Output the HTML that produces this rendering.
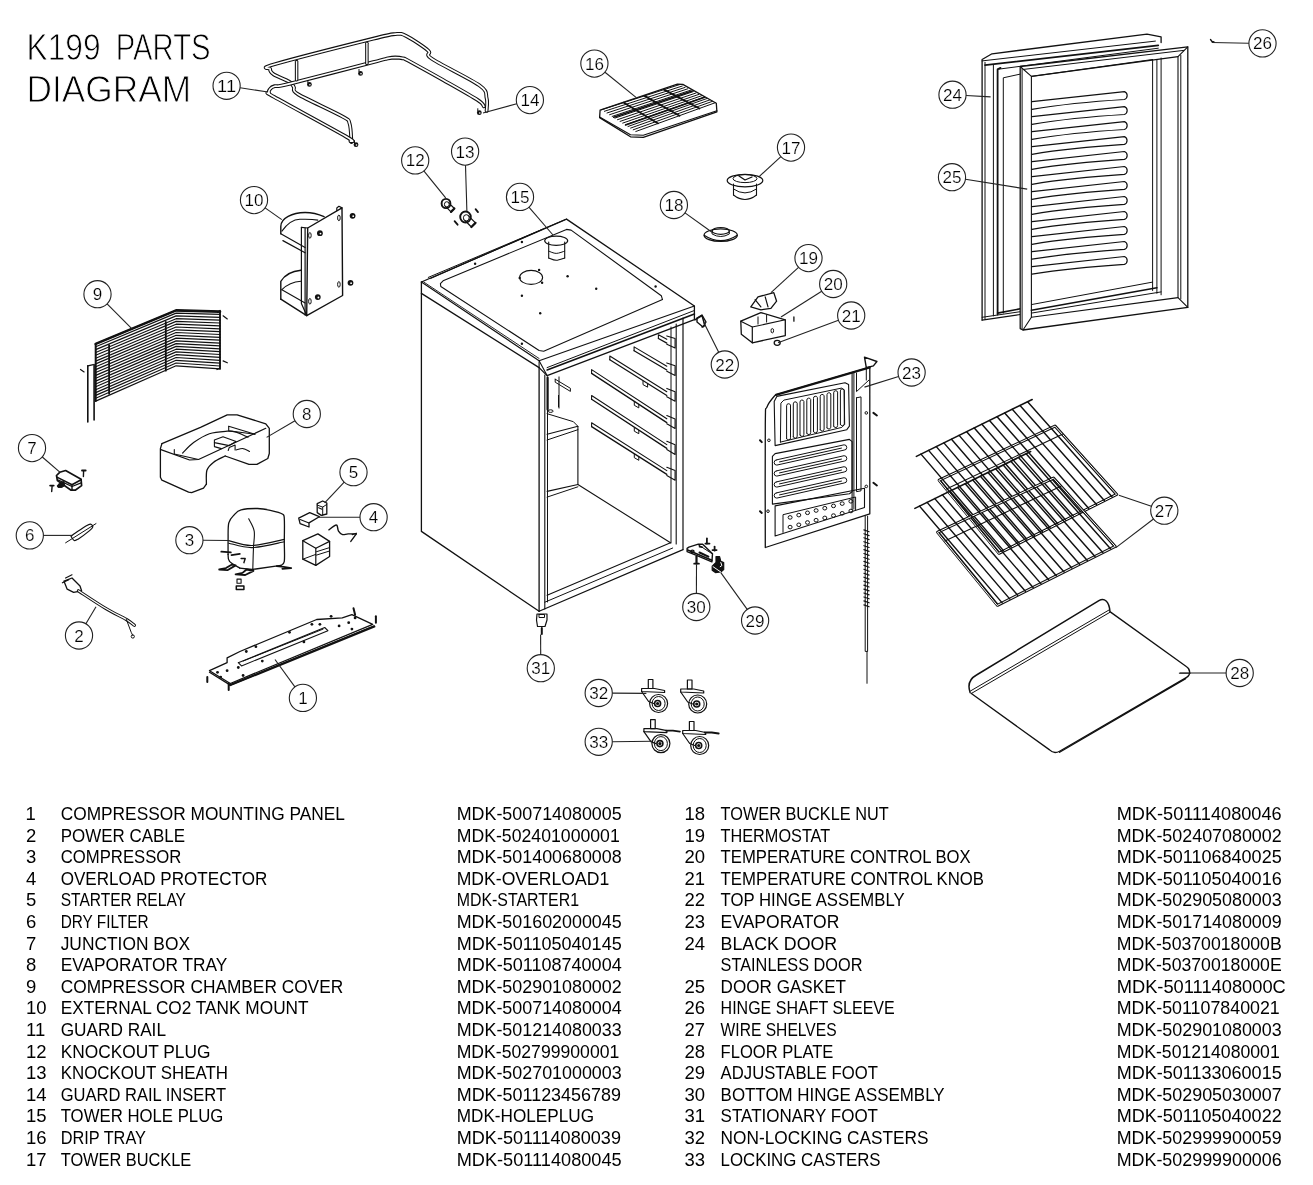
<!DOCTYPE html>
<html><head><meta charset="utf-8"><title>K199 Parts Diagram</title>
<style>
html,body{margin:0;padding:0;background:#fff;width:1313px;height:1185px;overflow:hidden}
svg{position:absolute;left:0;top:0;display:block;will-change:transform}
text{font-family:"Liberation Sans", sans-serif;fill:#000;stroke:#fff;stroke-width:0px}
.co{fill:none;stroke:#222;stroke-width:1.1}
.ld{stroke:#222;stroke-width:1.1}
.p{fill:none;stroke:#111;stroke-width:1.1;stroke-linejoin:round;stroke-linecap:round}
.pw{fill:#fff;stroke:#111;stroke-width:1.1;stroke-linejoin:round;stroke-linecap:round}
</style></head>
<body>
<svg width="1313" height="1185" viewBox="0 0 1313 1185">
<g id="parts">
<path d="M486.6,110.9 C486.6,108.8 487.9,102.4 486.6,98.1 C485.4,93.8 488.5,91.9 479.3,85.3 C470.2,78.8 440.3,64.6 431.8,58.8 C423.3,53.0 432.4,54.4 428.2,50.6 C423.9,46.8 411.7,38.7 406.2,36.0 C400.7,33.2 400.7,33.7 395.3,34.1 C389.8,34.6 393.4,33.7 373.3,38.7 C353.2,43.7 291.8,59.3 274.6,64.3 C257.4,69.3 270.2,67.2 270.1,68.9 C269.9,70.5 270.5,72.2 273.7,74.4 C276.9,76.5 285.9,79.5 289.2,81.7 C292.6,83.8 292.3,85.0 293.8,87.1 C295.3,89.3 290.3,89.6 298.4,94.5 C306.5,99.3 333.7,111.5 342.3,116.4 C350.8,121.3 348.0,119.4 349.6,123.7 C351.1,128.0 351.1,138.9 351.4,142.0" fill="none" stroke="#111" stroke-width="3.8" stroke-linejoin="round" stroke-linecap="round"/>
<path d="M486.6,110.9 C486.6,108.8 487.9,102.4 486.6,98.1 C485.4,93.8 488.5,91.9 479.3,85.3 C470.2,78.8 440.3,64.6 431.8,58.8 C423.3,53.0 432.4,54.4 428.2,50.6 C423.9,46.8 411.7,38.7 406.2,36.0 C400.7,33.2 400.7,33.7 395.3,34.1 C389.8,34.6 393.4,33.7 373.3,38.7 C353.2,43.7 291.8,59.3 274.6,64.3 C257.4,69.3 270.2,67.2 270.1,68.9 C269.9,70.5 270.5,72.2 273.7,74.4 C276.9,76.5 285.9,79.5 289.2,81.7 C292.6,83.8 292.3,85.0 293.8,87.1 C295.3,89.3 290.3,89.6 298.4,94.5 C306.5,99.3 333.7,111.5 342.3,116.4 C350.8,121.3 348.0,119.4 349.6,123.7 C351.1,128.0 351.1,138.9 351.4,142.0" fill="none" stroke="#fff" stroke-width="1.7" stroke-linejoin="round" stroke-linecap="round"/>
<path d="M483.9,106.3 C482.8,105.3 484.4,104.4 477.5,99.9 C470.7,95.5 454.4,86.4 442.8,79.8 C431.2,73.3 414.8,64.2 408.1,60.6 C401.4,57.0 404.7,58.8 402.6,58.3 C400.4,57.7 397.7,57.5 395.3,57.5 C392.8,57.6 391.6,57.7 387.9,58.4 C384.3,59.2 389.8,57.9 373.3,62.1 C356.9,66.3 305.7,79.8 289.2,83.9 C272.8,87.9 277.8,85.4 274.6,86.2 C271.4,87.1 271.0,87.8 270.1,89.0 C269.1,90.1 268.4,91.6 269.1,93.0 C269.9,94.4 261.8,89.9 274.6,97.2 C287.4,104.4 333.3,129.2 345.9,136.5 C358.5,143.8 349.7,140.3 350.5,141.1" fill="none" stroke="#111" stroke-width="3.8" stroke-linejoin="round" stroke-linecap="round"/>
<path d="M483.9,106.3 C482.8,105.3 484.4,104.4 477.5,99.9 C470.7,95.5 454.4,86.4 442.8,79.8 C431.2,73.3 414.8,64.2 408.1,60.6 C401.4,57.0 404.7,58.8 402.6,58.3 C400.4,57.7 397.7,57.5 395.3,57.5 C392.8,57.6 391.6,57.7 387.9,58.4 C384.3,59.2 389.8,57.9 373.3,62.1 C356.9,66.3 305.7,79.8 289.2,83.9 C272.8,87.9 277.8,85.4 274.6,86.2 C271.4,87.1 271.0,87.8 270.1,89.0 C269.1,90.1 268.4,91.6 269.1,93.0 C269.9,94.4 261.8,89.9 274.6,97.2 C287.4,104.4 333.3,129.2 345.9,136.5 C358.5,143.8 349.7,140.3 350.5,141.1" fill="none" stroke="#fff" stroke-width="1.7" stroke-linejoin="round" stroke-linecap="round"/>
<path d="M296.6,61.6 L296.6,79.8" fill="none" stroke="#111" stroke-width="3.5" stroke-linejoin="round" stroke-linecap="round"/>
<path d="M296.6,61.6 L296.6,79.8" fill="none" stroke="#fff" stroke-width="1.4" stroke-linejoin="round" stroke-linecap="round"/>
<path d="M366.9,43.3 L366.9,63.4" fill="none" stroke="#111" stroke-width="3.5" stroke-linejoin="round" stroke-linecap="round"/>
<path d="M366.9,43.3 L366.9,63.4" fill="none" stroke="#fff" stroke-width="1.4" stroke-linejoin="round" stroke-linecap="round"/>
<circle cx="309.4" cy="84.4" r="2.4" fill="#111"/>
<circle cx="309.9" cy="84.7" r="0.8" fill="#fff"/>
<line x1="307.9" y1="80.4" x2="307.9" y2="82.9" stroke="#111" stroke-width="1.0" stroke-linecap="round"/>
<circle cx="360.5" cy="73.4" r="2.4" fill="#111"/>
<circle cx="361.0" cy="73.7" r="0.8" fill="#fff"/>
<line x1="359.0" y1="69.4" x2="359.0" y2="71.9" stroke="#111" stroke-width="1.0" stroke-linecap="round"/>
<circle cx="356.0" cy="144.7" r="2.4" fill="#111"/>
<circle cx="356.5" cy="145.0" r="0.8" fill="#fff"/>
<line x1="354.5" y1="140.7" x2="354.5" y2="143.2" stroke="#111" stroke-width="1.0" stroke-linecap="round"/>
<circle cx="479.3" cy="112.7" r="2.4" fill="#111"/>
<circle cx="479.8" cy="113.0" r="0.8" fill="#fff"/>
<line x1="477.8" y1="108.7" x2="477.8" y2="111.2" stroke="#111" stroke-width="1.0" stroke-linecap="round"/>
<polygon points="600.1,110.2 677.4,84.1 682.8,84.4 716.3,103.3 716.9,111.8 643.3,137.4 630.5,136.8 599.6,117.6" fill="none" stroke="#111" stroke-width="1.3" stroke-linejoin="round" stroke-linecap="round"/>
<polyline points="599.6,117.1 630.5,134.7 643.3,135.2 716.9,110.7" fill="none" stroke="#111" stroke-width="1.1" stroke-linejoin="round" stroke-linecap="round"/>
<line x1="601.7" y1="109.7" x2="679.6" y2="84.6" stroke="#111" stroke-width="1.0" stroke-linecap="round"/>
<line x1="604.4" y1="111.3" x2="682.3" y2="86.0" stroke="#111" stroke-width="1.0" stroke-linecap="round"/>
<line x1="607.0" y1="113.0" x2="685.1" y2="87.4" stroke="#111" stroke-width="1.0" stroke-linecap="round"/>
<line x1="609.6" y1="114.7" x2="687.8" y2="88.8" stroke="#111" stroke-width="1.0" stroke-linecap="round"/>
<line x1="612.2" y1="116.4" x2="690.6" y2="90.2" stroke="#111" stroke-width="1.0" stroke-linecap="round"/>
<line x1="614.9" y1="118.1" x2="693.3" y2="91.6" stroke="#111" stroke-width="1.0" stroke-linecap="round"/>
<line x1="617.5" y1="119.7" x2="696.0" y2="93.0" stroke="#111" stroke-width="1.0" stroke-linecap="round"/>
<line x1="620.1" y1="121.4" x2="698.8" y2="94.4" stroke="#111" stroke-width="1.0" stroke-linecap="round"/>
<line x1="622.7" y1="123.1" x2="701.5" y2="95.8" stroke="#111" stroke-width="1.0" stroke-linecap="round"/>
<line x1="625.3" y1="124.8" x2="704.3" y2="97.1" stroke="#111" stroke-width="1.0" stroke-linecap="round"/>
<line x1="628.0" y1="126.5" x2="707.0" y2="98.5" stroke="#111" stroke-width="1.0" stroke-linecap="round"/>
<line x1="630.6" y1="128.1" x2="709.8" y2="99.9" stroke="#111" stroke-width="1.0" stroke-linecap="round"/>
<line x1="633.2" y1="129.8" x2="712.5" y2="101.3" stroke="#111" stroke-width="1.0" stroke-linecap="round"/>
<line x1="635.8" y1="131.5" x2="715.3" y2="102.7" stroke="#111" stroke-width="1.0" stroke-linecap="round"/>
<line x1="623.5" y1="102.6" x2="658.1" y2="123.4" stroke="#111" stroke-width="1.8" stroke-linecap="round"/>
<line x1="644.5" y1="95.9" x2="679.5" y2="115.7" stroke="#111" stroke-width="1.8" stroke-linecap="round"/>
<line x1="664.0" y1="89.6" x2="699.4" y2="108.5" stroke="#111" stroke-width="1.8" stroke-linecap="round"/>
<line x1="613.7" y1="117.3" x2="692.1" y2="90.9" stroke="#111" stroke-width="1.6" stroke-linecap="round"/>
<line x1="625.6" y1="125.0" x2="704.6" y2="97.3" stroke="#111" stroke-width="1.6" stroke-linecap="round"/>
<polygon points="448.2,202.3 454.4,208.5 451.0,211.9 444.8,205.7" fill="#fff" stroke="#111" stroke-width="1.2" stroke-linejoin="round" stroke-linecap="round"/>
<line x1="454.4" y1="208.5" x2="451.0" y2="211.9" stroke="#111" stroke-width="2.2" stroke-linecap="round"/>
<ellipse cx="446.0" cy="203.5" rx="4.4" ry="4.6" fill="none" stroke="#111" stroke-width="1.9"/>
<ellipse cx="446.8" cy="204.3" rx="2.4" ry="2.6" fill="#fff" stroke="#111" stroke-width="1.0"/>
<polygon points="468.0,215.5 475.5,222.9 471.4,227.0 464.0,219.5" fill="#fff" stroke="#111" stroke-width="1.2" stroke-linejoin="round" stroke-linecap="round"/>
<line x1="475.5" y1="222.9" x2="471.4" y2="227.0" stroke="#111" stroke-width="2.2" stroke-linecap="round"/>
<ellipse cx="465.5" cy="217.0" rx="5.3" ry="5.5" fill="none" stroke="#111" stroke-width="1.9"/>
<ellipse cx="466.3" cy="217.8" rx="2.9" ry="3.1" fill="#fff" stroke="#111" stroke-width="1.0"/>
<line x1="454.6" y1="221.1" x2="457.6" y2="224.7" stroke="#111" stroke-width="1.8" stroke-linecap="round"/>
<line x1="475.6" y1="209.1" x2="478.0" y2="212.1" stroke="#111" stroke-width="1.8" stroke-linecap="round"/>
<ellipse cx="745.0" cy="180.6" rx="17.8" ry="6.3" fill="#fff" stroke="#111" stroke-width="1.2"/>
<ellipse cx="745.0" cy="178.6" rx="12.0" ry="4.0" fill="none" stroke="#111" stroke-width="1.0"/>
<polyline points="733.5,184.0 733.5,195.0" fill="none" stroke="#111" stroke-width="1.1" stroke-linejoin="round" stroke-linecap="round"/>
<polyline points="756.5,184.0 756.5,195.0" fill="none" stroke="#111" stroke-width="1.1" stroke-linejoin="round" stroke-linecap="round"/>
<path d="M733.5,195 Q745,204 756.5,195" fill="none" stroke="#111" stroke-width="1.1" stroke-linejoin="round" stroke-linecap="round"/>
<path d="M733.5,189 Q745,197 756.5,189" fill="none" stroke="#111" stroke-width="1.0" stroke-linejoin="round" stroke-linecap="round"/>
<polyline points="739.0,176.0 745.0,180.0 752.0,177.0" fill="none" stroke="#111" stroke-width="1.3" stroke-linejoin="round" stroke-linecap="round"/>
<ellipse cx="720.7" cy="235.2" rx="16.6" ry="6.3" fill="none" stroke="#111" stroke-width="1.2"/>
<path d="M704.1,235.2 Q720.7,246 737.3,235.2" fill="none" stroke="#111" stroke-width="1.1" stroke-linejoin="round" stroke-linecap="round"/>
<ellipse cx="720.7" cy="230.9" rx="8.6" ry="3.4" fill="none" stroke="#111" stroke-width="1.2"/>
<path d="M712.1,231 L712.1,234 Q720.7,239 729.3,234 L729.3,231" fill="none" stroke="#111" stroke-width="1.0" stroke-linejoin="round" stroke-linecap="round"/>
<polyline points="750.8,306.9 758.0,296.9 773.8,292.6 776.6,301.2 770.9,308.3 760.9,309.8 750.8,306.9" fill="none" stroke="#111" stroke-width="1.3" stroke-linejoin="round" stroke-linecap="round"/>
<polyline points="755.1,299.7 760.9,306.9" fill="none" stroke="#111" stroke-width="1.2" stroke-linejoin="round" stroke-linecap="round"/>
<polyline points="765.2,296.9 768.0,306.9" fill="none" stroke="#111" stroke-width="1.2" stroke-linejoin="round" stroke-linecap="round"/>
<polygon points="740.8,321.2 760.9,312.6 785.3,319.8 785.3,335.6 752.3,342.8 741.3,334.2" fill="none" stroke="#111" stroke-width="1.3" stroke-linejoin="round" stroke-linecap="round"/>
<polyline points="740.8,321.2 752.3,327.0 752.3,342.8" fill="none" stroke="#111" stroke-width="1.2" stroke-linejoin="round" stroke-linecap="round"/>
<polyline points="752.3,327.0 785.3,319.8" fill="none" stroke="#111" stroke-width="1.1" stroke-linejoin="round" stroke-linecap="round"/>
<ellipse cx="772.3" cy="330.7" rx="1.3" ry="2.2" fill="none" stroke="#111" stroke-width="1"/>
<polyline points="758.0,316.9 758.0,324.1" fill="none" stroke="#111" stroke-width="1" stroke-linejoin="round" stroke-linecap="round"/>
<polyline points="766.6,314.9 766.6,322.1" fill="none" stroke="#111" stroke-width="1" stroke-linejoin="round" stroke-linecap="round"/>
<polyline points="793.9,316.9 793.9,321.2" fill="none" stroke="#111" stroke-width="1.3" stroke-linejoin="round" stroke-linecap="round"/>
<ellipse cx="777.2" cy="342.8" rx="3.0" ry="2.5" fill="none" stroke="#111" stroke-width="1.3"/>
<polyline points="694.9,319.8 702.0,315.5 704.9,325.6 702.0,327.0" fill="none" stroke="#111" stroke-width="1.5" stroke-linejoin="round" stroke-linecap="round"/>
<polygon points="307.7,228.0 342.0,207.9 342.6,295.5 306.7,315.6" fill="#fff" stroke="#111" stroke-width="1.4" stroke-linejoin="round" stroke-linecap="round"/>
<polyline points="301.4,227.4 307.7,228.0" fill="none" stroke="#111" stroke-width="1.2" stroke-linejoin="round" stroke-linecap="round"/>
<polyline points="301.4,227.4 301.4,303.4 306.7,315.6" fill="none" stroke="#111" stroke-width="1.2" stroke-linejoin="round" stroke-linecap="round"/>
<polyline points="305.1,228.0 305.1,315.0" fill="none" stroke="#111" stroke-width="1.2" stroke-linejoin="round" stroke-linecap="round"/>
<polyline points="342.0,207.9 338.9,206.3 336.8,207.9 336.8,210.6" fill="none" stroke="#111" stroke-width="1.2" stroke-linejoin="round" stroke-linecap="round"/>
<path d="M 280.8,233.8 L 280.8,226.4 C 280.8,217.9 292.4,212.7 305.1,212.5 C 313.5,212.5 319.9,214.8 324.1,216.7" fill="none" stroke="#111" stroke-width="1.4" stroke-linejoin="round" stroke-linecap="round"/>
<path d="M 281.9,231.1 C 286.1,225.3 292.4,219.5 299.8,219.3 C 309.3,219.0 314.6,219.5 317.8,220.1" fill="none" stroke="#111" stroke-width="1.1" stroke-linejoin="round" stroke-linecap="round"/>
<polyline points="280.8,233.8 305.1,247.5" fill="none" stroke="#111" stroke-width="1.2" stroke-linejoin="round" stroke-linecap="round"/>
<polyline points="282.9,240.6 305.1,252.8" fill="none" stroke="#111" stroke-width="1.2" stroke-linejoin="round" stroke-linecap="round"/>
<path d="M 280.8,299.2 L 280.8,281.3 C 284.0,276.0 290.3,271.2 300.9,270.2" fill="none" stroke="#111" stroke-width="1.4" stroke-linejoin="round" stroke-linecap="round"/>
<path d="M 281.9,289.7 C 286.1,285.5 292.4,281.8 300.9,281.3" fill="none" stroke="#111" stroke-width="1.1" stroke-linejoin="round" stroke-linecap="round"/>
<polyline points="280.8,299.2 306.7,315.6" fill="none" stroke="#111" stroke-width="1.4" stroke-linejoin="round" stroke-linecap="round"/>
<polyline points="281.9,289.7 305.1,302.9" fill="none" stroke="#111" stroke-width="1.1" stroke-linejoin="round" stroke-linecap="round"/>
<circle cx="319.9" cy="233.2" r="2.9" fill="#111"/>
<circle cx="320.5" cy="233.6" r="0.9" fill="#fff"/>
<circle cx="352.6" cy="215.8" r="2.9" fill="#111"/>
<circle cx="353.2" cy="216.2" r="0.9" fill="#fff"/>
<circle cx="350.5" cy="282.8" r="2.9" fill="#111"/>
<circle cx="351.1" cy="283.2" r="0.9" fill="#fff"/>
<circle cx="317.8" cy="297.1" r="2.9" fill="#111"/>
<circle cx="318.4" cy="297.5" r="0.9" fill="#fff"/>
<ellipse cx="309.9" cy="235.4" rx="1.3" ry="2.8" fill="none" stroke="#111" stroke-width="1.0"/>
<ellipse cx="338.9" cy="217.9" rx="1.3" ry="2.8" fill="none" stroke="#111" stroke-width="1.0"/>
<ellipse cx="338.9" cy="284.4" rx="1.3" ry="2.8" fill="none" stroke="#111" stroke-width="1.0"/>
<ellipse cx="309.9" cy="301.3" rx="1.3" ry="2.8" fill="none" stroke="#111" stroke-width="1.0"/>
<polyline points="95.7,343.9 176.1,310.4 220.0,311.6" fill="none" stroke="#111" stroke-width="1.2" stroke-linejoin="round" stroke-linecap="round"/>
<polyline points="95.7,346.7 176.1,313.1 220.0,314.4" fill="none" stroke="#111" stroke-width="1.2" stroke-linejoin="round" stroke-linecap="round"/>
<polyline points="95.7,349.6 176.1,315.9 220.0,317.3" fill="none" stroke="#111" stroke-width="1.2" stroke-linejoin="round" stroke-linecap="round"/>
<polyline points="95.7,352.5 176.1,318.7 220.0,320.2" fill="none" stroke="#111" stroke-width="1.2" stroke-linejoin="round" stroke-linecap="round"/>
<polyline points="95.7,355.3 176.1,321.4 220.0,323.0" fill="none" stroke="#111" stroke-width="1.2" stroke-linejoin="round" stroke-linecap="round"/>
<polyline points="95.7,358.2 176.1,324.2 220.0,325.9" fill="none" stroke="#111" stroke-width="1.2" stroke-linejoin="round" stroke-linecap="round"/>
<polyline points="95.7,361.1 176.1,327.0 220.0,328.8" fill="none" stroke="#111" stroke-width="1.2" stroke-linejoin="round" stroke-linecap="round"/>
<polyline points="95.7,363.9 176.1,329.8 220.0,331.6" fill="none" stroke="#111" stroke-width="1.2" stroke-linejoin="round" stroke-linecap="round"/>
<polyline points="95.7,366.8 176.1,332.5 220.0,334.5" fill="none" stroke="#111" stroke-width="1.2" stroke-linejoin="round" stroke-linecap="round"/>
<polyline points="95.7,369.6 176.1,335.3 220.0,337.4" fill="none" stroke="#111" stroke-width="1.2" stroke-linejoin="round" stroke-linecap="round"/>
<polyline points="95.7,372.5 176.1,338.1 220.0,340.2" fill="none" stroke="#111" stroke-width="1.2" stroke-linejoin="round" stroke-linecap="round"/>
<polyline points="95.7,375.4 176.1,340.9 220.0,343.1" fill="none" stroke="#111" stroke-width="1.2" stroke-linejoin="round" stroke-linecap="round"/>
<polyline points="95.7,378.2 176.1,343.6 220.0,345.9" fill="none" stroke="#111" stroke-width="1.2" stroke-linejoin="round" stroke-linecap="round"/>
<polyline points="95.7,381.1 176.1,346.4 220.0,348.8" fill="none" stroke="#111" stroke-width="1.2" stroke-linejoin="round" stroke-linecap="round"/>
<polyline points="95.7,384.0 176.1,349.2 220.0,351.7" fill="none" stroke="#111" stroke-width="1.2" stroke-linejoin="round" stroke-linecap="round"/>
<polyline points="95.7,386.8 176.1,351.9 220.0,354.5" fill="none" stroke="#111" stroke-width="1.2" stroke-linejoin="round" stroke-linecap="round"/>
<polyline points="95.7,389.7 176.1,354.7 220.0,357.4" fill="none" stroke="#111" stroke-width="1.2" stroke-linejoin="round" stroke-linecap="round"/>
<polyline points="95.7,392.6 176.1,357.5 220.0,360.3" fill="none" stroke="#111" stroke-width="1.2" stroke-linejoin="round" stroke-linecap="round"/>
<polyline points="95.7,395.4 176.1,360.3 220.0,363.1" fill="none" stroke="#111" stroke-width="1.2" stroke-linejoin="round" stroke-linecap="round"/>
<polyline points="95.7,398.3 176.1,363.0 220.0,366.0" fill="none" stroke="#111" stroke-width="1.2" stroke-linejoin="round" stroke-linecap="round"/>
<polyline points="95.7,401.1 176.1,365.8 220.0,368.9" fill="none" stroke="#111" stroke-width="1.2" stroke-linejoin="round" stroke-linecap="round"/>
<polyline points="95.7,343.9 176.1,310.4 220.0,311.6" fill="none" stroke="#111" stroke-width="2.6" stroke-linejoin="round" stroke-linecap="round"/>
<polyline points="95.7,343.9 95.7,401.1" fill="none" stroke="#111" stroke-width="2.0" stroke-linejoin="round" stroke-linecap="round"/>
<polyline points="220.0,311.6 220.0,368.9" fill="none" stroke="#111" stroke-width="1.6" stroke-linejoin="round" stroke-linecap="round"/>
<polyline points="109.1,345.1 109.1,393.8" fill="none" stroke="#111" stroke-width="1.8" stroke-linejoin="round" stroke-linecap="round"/>
<polyline points="165.8,321.9 165.8,370.7" fill="none" stroke="#111" stroke-width="1.8" stroke-linejoin="round" stroke-linecap="round"/>
<polyline points="87.8,365.8 87.8,421.9" fill="none" stroke="#111" stroke-width="1.6" stroke-linejoin="round" stroke-linecap="round"/>
<polyline points="94.1,364.6 94.1,420.0" fill="none" stroke="#111" stroke-width="1.6" stroke-linejoin="round" stroke-linecap="round"/>
<polyline points="87.8,365.8 93.3,364.6" fill="none" stroke="#111" stroke-width="1.2" stroke-linejoin="round" stroke-linecap="round"/>
<polyline points="217.6,312.2 220.0,310.4 220.0,368.2 217.0,369.5" fill="none" stroke="#111" stroke-width="1.3" stroke-linejoin="round" stroke-linecap="round"/>
<polyline points="223.1,315.8 227.3,318.9" fill="none" stroke="#111" stroke-width="1.2" stroke-linejoin="round" stroke-linecap="round"/>
<polyline points="223.1,360.9 227.3,362.8" fill="none" stroke="#111" stroke-width="1.2" stroke-linejoin="round" stroke-linecap="round"/>
<polyline points="80.5,369.5 84.1,371.9" fill="none" stroke="#111" stroke-width="1.2" stroke-linejoin="round" stroke-linecap="round"/>
<polyline points="161.9,443.6 200.5,427.3 227.2,414.9 237.1,414.9 265.8,423.8 269.3,428.3 269.3,453.5 267.8,458.5 256.9,464.4 249.0,464.4 225.2,456.0" fill="none" stroke="#111" stroke-width="1.3" stroke-linejoin="round" stroke-linecap="round"/>
<path d="M225.2,456.0 C223.3,457.1 216.4,460.0 213.4,462.4 C210.3,464.8 208.1,466.7 206.9,470.3 C205.8,474.0 206.5,481.9 206.4,484.2" fill="none" stroke="#111" stroke-width="1.3" stroke-linejoin="round" stroke-linecap="round"/>
<polyline points="206.4,484.2 203.5,488.2 191.6,492.6 188.6,492.1 161.9,480.2 160.4,477.3 160.4,448.6 161.9,443.6" fill="none" stroke="#111" stroke-width="1.3" stroke-linejoin="round" stroke-linecap="round"/>
<polyline points="160.9,449.6 189.6,460.0 198.5,459.5 265.8,428.3" fill="none" stroke="#111" stroke-width="1.2" stroke-linejoin="round" stroke-linecap="round"/>
<path d="M182.7,453.0 C184.5,451.3 189.1,445.8 193.6,442.6 C198.0,439.4 203.8,435.6 209.4,433.7 C215.0,431.8 222.8,431.5 227.2,431.2 C231.7,431.0 232.7,431.2 236.1,432.2 C239.6,433.2 246.0,436.4 248.0,437.2" fill="none" stroke="#111" stroke-width="1.2" stroke-linejoin="round" stroke-linecap="round"/>
<polyline points="174.3,449.6 174.3,454.0 198.5,459.5" fill="none" stroke="#111" stroke-width="1.1" stroke-linejoin="round" stroke-linecap="round"/>
<polyline points="228.7,426.3 228.7,430.7 255.0,434.2" fill="none" stroke="#111" stroke-width="1.1" stroke-linejoin="round" stroke-linecap="round"/>
<polyline points="228.7,426.3 255.0,434.2" fill="none" stroke="#111" stroke-width="1.1" stroke-linejoin="round" stroke-linecap="round"/>
<polyline points="214.4,440.1 223.0,436.7 236.1,441.6 229.2,445.6 214.4,442.6 214.4,440.1" fill="none" stroke="#111" stroke-width="1.1" stroke-linejoin="round" stroke-linecap="round"/>
<polyline points="214.4,442.6 214.4,446.6 221.3,448.6" fill="none" stroke="#111" stroke-width="1.1" stroke-linejoin="round" stroke-linecap="round"/>
<polyline points="228.2,450.5 229.2,447.6 235.1,445.1 235.1,450.0" fill="none" stroke="#111" stroke-width="1.1" stroke-linejoin="round" stroke-linecap="round"/>
<path d="M236.1,450.0 C237.3,449.8 240.8,448.3 243.1,448.6 C245.3,448.8 248.4,451.0 249.5,451.5" fill="none" stroke="#111" stroke-width="1.1" stroke-linejoin="round" stroke-linecap="round"/>
<polygon points="56.5,475.5 59.7,472.3 65.6,470.5 81.1,479.2 81.6,485.6 75.2,490.2 71.1,490.2 57.4,480.6 56.5,475.5" fill="#fff" stroke="#111" stroke-width="1.7" stroke-linejoin="round" stroke-linecap="round"/>
<polyline points="57.4,477.4 72.0,484.7 81.1,479.7" fill="none" stroke="#111" stroke-width="1.6" stroke-linejoin="round" stroke-linecap="round"/>
<polyline points="58.3,480.1 72.0,486.5 81.1,482.9" fill="none" stroke="#111" stroke-width="1.2" stroke-linejoin="round" stroke-linecap="round"/>
<polyline points="72.0,484.7 72.0,489.7" fill="none" stroke="#111" stroke-width="1.4" stroke-linejoin="round" stroke-linecap="round"/>
<polygon points="57.4,485.6 59.7,482.9 63.8,481.5 64.7,485.6 61.9,487.4 58.3,487.4" fill="#111" stroke="#111" stroke-width="1.0" stroke-linejoin="round" stroke-linecap="round"/>
<polyline points="82.0,470.5 85.7,470.5" fill="none" stroke="#111" stroke-width="1.8" stroke-linejoin="round" stroke-linecap="round"/>
<polyline points="83.6,471.0 83.4,476.5" fill="none" stroke="#111" stroke-width="1.4" stroke-linejoin="round" stroke-linecap="round"/>
<polyline points="50.1,485.6 53.7,485.6" fill="none" stroke="#111" stroke-width="1.8" stroke-linejoin="round" stroke-linecap="round"/>
<polyline points="52.1,486.1 51.7,491.5" fill="none" stroke="#111" stroke-width="1.4" stroke-linejoin="round" stroke-linecap="round"/>
<polyline points="65.6,542.8 96.0,523.6" fill="none" stroke="#111" stroke-width="1.0" stroke-linejoin="round" stroke-linecap="round"/>
<path d="M71.0,536.4 C71.6,537.1 73.0,540.1 74.2,540.5 C75.4,541.0 75.8,540.6 78.4,538.9 C80.9,537.3 87.2,532.6 89.6,530.6 C92.0,528.6 92.6,527.8 92.8,526.8 C92.9,525.7 91.6,524.4 90.5,524.2 C89.5,524.1 89.1,524.2 86.4,525.8 C83.7,527.4 76.8,532.1 74.2,533.8 C71.7,535.6 71.6,535.9 71.0,536.4" fill="none" stroke="#111" stroke-width="1.2" stroke-linejoin="round" stroke-linecap="round"/>
<polygon points="64.0,581.2 72.0,578.0 80.0,586.0 81.6,590.8 73.6,592.4 67.2,589.2" fill="none" stroke="#111" stroke-width="1.3" stroke-linejoin="round" stroke-linecap="round"/>
<polyline points="62.4,582.8 68.8,579.6" fill="none" stroke="#111" stroke-width="1.2" stroke-linejoin="round" stroke-linecap="round"/>
<polyline points="65.6,578.0 72.0,574.8" fill="none" stroke="#111" stroke-width="1.2" stroke-linejoin="round" stroke-linecap="round"/>
<path d="M78.4,590.8 C82.9,593.7 97.6,603.6 105.6,608.3 C113.6,613.1 121.6,616.7 126.4,619.5 C131.2,622.4 133.0,624.3 134.4,625.3" fill="none" stroke="#111" stroke-width="3.2" stroke-linejoin="round" stroke-linecap="round"/>
<path d="M78.4,590.8 C82.9,593.7 97.6,603.6 105.6,608.3 C113.6,613.1 121.6,616.7 126.4,619.5 C131.2,622.4 133.0,624.3 134.4,625.3" fill="none" stroke="#fff" stroke-width="1.2" stroke-linejoin="round" stroke-linecap="round"/>
<polyline points="126.4,619.5 131.2,632.3 132.8,635.5" fill="none" stroke="#111" stroke-width="1.0" stroke-linejoin="round" stroke-linecap="round"/>
<ellipse cx="132.8" cy="636.5" rx="1.6" ry="1.6" fill="none" stroke="#111" stroke-width="1.0"/>
<path d="M228.1,554.4 C228.1,551.9 228.0,544.6 228.1,539.4 C228.2,534.1 227.8,527.0 228.8,522.9 C229.8,518.8 232.2,516.8 234.3,514.7 C236.3,512.5 237.2,510.9 241.1,509.9 C245.0,508.9 252.6,508.4 257.6,508.5 C262.6,508.6 267.2,509.7 271.3,510.6 C275.4,511.5 280.1,512.6 282.3,514.0 C284.4,515.4 284.0,514.1 284.3,518.8 C284.7,523.5 284.3,535.0 284.3,542.1 C284.3,549.2 284.9,557.4 284.3,561.3 C283.7,565.2 281.5,564.7 280.9,565.4" fill="none" stroke="#111" stroke-width="1.3" stroke-linejoin="round" stroke-linecap="round"/>
<polyline points="280.9,565.4 252.1,569.5 239.8,568.1" fill="none" stroke="#111" stroke-width="1.3" stroke-linejoin="round" stroke-linecap="round"/>
<path d="M239.8,568.1 C238.0,567.0 231.4,563.6 229.5,561.3 C227.5,559.0 228.3,555.6 228.1,554.4" fill="none" stroke="#111" stroke-width="1.3" stroke-linejoin="round" stroke-linecap="round"/>
<path d="M228.8,540.7 C232.7,541.5 242.8,545.8 252.1,545.5 C261.4,545.3 278.9,540.4 284.3,539.4" fill="none" stroke="#111" stroke-width="1.2" stroke-linejoin="round" stroke-linecap="round"/>
<path d="M228.8,543.2 C232.7,543.9 242.8,547.8 252.1,547.6 C261.4,547.4 278.9,542.8 284.3,541.8" fill="none" stroke="#111" stroke-width="1.1" stroke-linejoin="round" stroke-linecap="round"/>
<path d="M248.7,518.8 C249.6,520.8 253.4,526.3 254.2,531.1 C255.0,535.9 253.7,541.2 253.5,547.6 C253.2,554.0 252.9,565.9 252.8,569.5" fill="none" stroke="#111" stroke-width="1.1" stroke-linejoin="round" stroke-linecap="round"/>
<polyline points="221.3,551.7 230.8,552.4" fill="none" stroke="#111" stroke-width="1.8" stroke-linejoin="round" stroke-linecap="round"/>
<polyline points="231.5,555.1 239.8,553.8" fill="none" stroke="#111" stroke-width="1.8" stroke-linejoin="round" stroke-linecap="round"/>
<polyline points="241.1,558.5 245.2,558.5 243.9,562.7" fill="none" stroke="#111" stroke-width="1.4" stroke-linejoin="round" stroke-linecap="round"/>
<polyline points="219.2,569.5 226.0,568.1 231.5,564.7 235.6,565.4 227.4,570.2 219.2,569.5" fill="none" stroke="#111" stroke-width="1.8" stroke-linejoin="round" stroke-linecap="round"/>
<polyline points="235.6,574.3 242.5,572.9 246.6,569.5 253.5,570.9 245.2,575.0 235.6,574.3" fill="none" stroke="#111" stroke-width="1.8" stroke-linejoin="round" stroke-linecap="round"/>
<polyline points="276.8,566.1 283.6,566.8 291.2,568.1 282.3,568.8" fill="none" stroke="#111" stroke-width="1.8" stroke-linejoin="round" stroke-linecap="round"/>
<polygon points="237.0,579.1 241.1,579.1 241.1,583.2 237.0,583.2" fill="none" stroke="#111" stroke-width="1.1" stroke-linejoin="round" stroke-linecap="round"/>
<polygon points="236.3,586.0 243.9,586.0 243.9,589.4 236.3,589.4" fill="none" stroke="#111" stroke-width="1.5" stroke-linejoin="round" stroke-linecap="round"/>
<polygon points="302.8,540.7 317.9,533.9 329.6,541.4 329.6,556.5 315.8,565.4 302.8,559.2" fill="none" stroke="#111" stroke-width="1.3" stroke-linejoin="round" stroke-linecap="round"/>
<polyline points="302.8,540.7 315.8,548.3 329.6,541.4" fill="none" stroke="#111" stroke-width="1.2" stroke-linejoin="round" stroke-linecap="round"/>
<polyline points="315.8,548.3 315.8,565.4" fill="none" stroke="#111" stroke-width="1.2" stroke-linejoin="round" stroke-linecap="round"/>
<polyline points="302.8,559.2 315.8,554.4" fill="none" stroke="#111" stroke-width="1.0" stroke-linejoin="round" stroke-linecap="round"/>
<polyline points="316.5,551.7 329.6,547.6" fill="none" stroke="#111" stroke-width="1.0" stroke-linejoin="round" stroke-linecap="round"/>
<polyline points="316.5,555.1 329.6,551.0" fill="none" stroke="#111" stroke-width="1.0" stroke-linejoin="round" stroke-linecap="round"/>
<polyline points="298.7,518.1 309.7,512.6 319.3,516.7 309.0,522.9 309.0,527.0 300.1,523.6 298.7,518.1" fill="none" stroke="#111" stroke-width="1.3" stroke-linejoin="round" stroke-linecap="round"/>
<polyline points="300.1,519.5 309.0,522.9" fill="none" stroke="#111" stroke-width="1.1" stroke-linejoin="round" stroke-linecap="round"/>
<polygon points="317.2,503.7 322.7,501.0 326.8,503.0 326.8,514.0 321.3,515.4 317.2,512.6" fill="none" stroke="#111" stroke-width="1.3" stroke-linejoin="round" stroke-linecap="round"/>
<polyline points="317.2,505.1 322.7,507.1 326.8,504.4" fill="none" stroke="#111" stroke-width="1.0" stroke-linejoin="round" stroke-linecap="round"/>
<polyline points="318.6,507.8 322.0,509.2" fill="none" stroke="#111" stroke-width="1.1" stroke-linejoin="round" stroke-linecap="round"/>
<polyline points="322.7,507.1 322.7,515.4" fill="none" stroke="#111" stroke-width="1.0" stroke-linejoin="round" stroke-linecap="round"/>
<path d="M328.9,529.8 C330.1,529.0 334.8,524.7 336.4,525.0 C338.0,525.2 337.4,529.5 338.5,531.1 C339.5,532.7 341.0,534.1 342.6,534.6 C344.2,535.0 345.8,534.0 348.1,533.9 C350.4,533.8 354.9,533.9 356.3,533.9" fill="none" stroke="#111" stroke-width="1.4" stroke-linejoin="round" stroke-linecap="round"/>
<polyline points="356.3,533.9 350.8,541.4" fill="none" stroke="#111" stroke-width="1.4" stroke-linejoin="round" stroke-linecap="round"/>
<polyline points="352.2,534.6 356.3,533.2" fill="none" stroke="#111" stroke-width="1.2" stroke-linejoin="round" stroke-linecap="round"/>
<polyline points="209.5,670.7 227.1,662.7 227.1,657.9 239.9,651.5 316.7,619.5 342.3,617.9 351.9,614.7 372.7,624.3 230.3,683.5 209.5,670.7" fill="none" stroke="#111" stroke-width="1.3" stroke-linejoin="round" stroke-linecap="round"/>
<polyline points="209.5,672.3 230.3,685.1 374.3,625.9" fill="none" stroke="#111" stroke-width="1.3" stroke-linejoin="round" stroke-linecap="round"/>
<polyline points="230.3,685.1 374.3,626.6" fill="none" stroke="#111" stroke-width="2.2" stroke-linejoin="round" stroke-linecap="round"/>
<polyline points="238.3,662.7 324.7,627.5 327.9,630.7 241.5,665.9 238.3,662.7" fill="none" stroke="#111" stroke-width="1.1" stroke-linejoin="round" stroke-linecap="round"/>
<polyline points="243.1,661.1 323.1,629.1" fill="none" stroke="#111" stroke-width="1.0" stroke-linejoin="round" stroke-linecap="round"/>
<circle cx="246.3" cy="651.5" r="1.4" fill="#111"/>
<circle cx="289.5" cy="632.3" r="1.4" fill="#111"/>
<circle cx="311.9" cy="624.3" r="1.4" fill="#111"/>
<circle cx="348.7" cy="622.7" r="1.4" fill="#111"/>
<circle cx="243.1" cy="675.5" r="1.4" fill="#111"/>
<circle cx="262.3" cy="661.1" r="1.4" fill="#111"/>
<circle cx="303.9" cy="641.9" r="1.4" fill="#111"/>
<circle cx="351.9" cy="629.1" r="1.4" fill="#111"/>
<circle cx="217.5" cy="672.3" r="1.4" fill="#111"/>
<circle cx="227.1" cy="670.7" r="1.4" fill="#111"/>
<circle cx="339.1" cy="625.9" r="1.4" fill="#111"/>
<circle cx="238.3" cy="667.5" r="1.4" fill="#111"/>
<circle cx="319.9" cy="624.3" r="1.4" fill="#111"/>
<circle cx="331.1" cy="616.3" r="1.4" fill="#111"/>
<circle cx="355.1" cy="617.9" r="1.4" fill="#111"/>
<circle cx="220.7" cy="677.1" r="1.4" fill="#111"/>
<circle cx="255.9" cy="646.7" r="1.4" fill="#111"/>
<polyline points="353.5,608.3 355.1,614.7" fill="none" stroke="#111" stroke-width="2" stroke-linejoin="round" stroke-linecap="round"/>
<polyline points="375.9,616.3 375.9,622.7" fill="none" stroke="#111" stroke-width="2" stroke-linejoin="round" stroke-linecap="round"/>
<polyline points="207.3,677.1 207.3,681.9" fill="none" stroke="#111" stroke-width="2" stroke-linejoin="round" stroke-linecap="round"/>
<polyline points="228.7,683.5 228.7,689.9" fill="none" stroke="#111" stroke-width="2" stroke-linejoin="round" stroke-linecap="round"/>
<polyline points="421.4,282.0 566.5,219.1 694.4,306.0 694.4,319.7 547.1,375.6 539.1,367.6 421.4,293.4" fill="none" stroke="#111" stroke-width="1.3" stroke-linejoin="round" stroke-linecap="round"/>
<polyline points="421.4,282.0 539.1,360.8 694.4,306.0" fill="none" stroke="#111" stroke-width="1.2" stroke-linejoin="round" stroke-linecap="round"/>
<polyline points="423.7,282.0 539.1,358.5" fill="none" stroke="#111" stroke-width="0.9" stroke-linejoin="round" stroke-linecap="round"/>
<polyline points="539.1,360.8 547.1,375.6" fill="none" stroke="#111" stroke-width="1.1" stroke-linejoin="round" stroke-linecap="round"/>
<polyline points="539.1,361.9 539.1,367.6" fill="none" stroke="#111" stroke-width="1.1" stroke-linejoin="round" stroke-linecap="round"/>
<polyline points="428.3,277.4 566.5,219.1" fill="none" stroke="#111" stroke-width="1.0" stroke-linejoin="round" stroke-linecap="round"/>
<polyline points="430.6,278.5 542.5,229.4" fill="none" stroke="#111" stroke-width="1.0" stroke-linejoin="round" stroke-linecap="round"/>
<polyline points="547.1,367.6 694.4,310.5" fill="none" stroke="#111" stroke-width="1.0" stroke-linejoin="round" stroke-linecap="round"/>
<polyline points="547.1,369.9 694.4,314.0" fill="none" stroke="#111" stroke-width="1.6" stroke-linejoin="round" stroke-linecap="round"/>
<polyline points="443.1,280.8 566.5,229.4 571.1,230.1 661.3,295.7 662.5,299.6 543.7,351.2 539.1,350.5 440.8,286.5 440.4,283.6 443.1,280.8" fill="none" stroke="#111" stroke-width="1.1" stroke-linejoin="round" stroke-linecap="round"/>
<ellipse cx="531.1" cy="277.4" rx="11.5" ry="7.0" fill="none" stroke="#111" stroke-width="1.1"/>
<circle cx="521.9" cy="242.0" r="1.2" fill="#111"/>
<circle cx="475.1" cy="263.7" r="1.2" fill="#111"/>
<circle cx="567.6" cy="276.3" r="1.2" fill="#111"/>
<circle cx="596.2" cy="288.8" r="1.2" fill="#111"/>
<circle cx="521.9" cy="295.7" r="1.2" fill="#111"/>
<circle cx="540.2" cy="313.3" r="1.2" fill="#111"/>
<circle cx="539.1" cy="269.9" r="1.2" fill="#111"/>
<circle cx="519.7" cy="277.9" r="1.2" fill="#111"/>
<circle cx="542.1" cy="282.7" r="1.2" fill="#111"/>
<circle cx="655.6" cy="286.5" r="1.2" fill="#111"/>
<circle cx="521.9" cy="343.7" r="1.2" fill="#111"/>
<ellipse cx="556.2" cy="240.8" rx="11.5" ry="4.6" fill="#fff" stroke="#111" stroke-width="1.2"/>
<polyline points="548.7,242.0 548.7,258.0" fill="none" stroke="#111" stroke-width="1.1" stroke-linejoin="round" stroke-linecap="round"/>
<polyline points="564.7,242.0 564.7,258.0" fill="none" stroke="#111" stroke-width="1.1" stroke-linejoin="round" stroke-linecap="round"/>
<path d="M548.7,258.0 C549.9,258.4 553.6,260.3 556.2,260.3 C558.9,260.3 563.3,258.4 564.7,258.0" fill="none" stroke="#111" stroke-width="1.1" stroke-linejoin="round" stroke-linecap="round"/>
<path d="M548.7,251.1 C549.9,251.5 553.6,253.4 556.2,253.4 C558.9,253.4 563.3,251.5 564.7,251.1" fill="none" stroke="#111" stroke-width="1.0" stroke-linejoin="round" stroke-linecap="round"/>
<polyline points="421.4,282.0 421.4,531.4 539.1,611.3" fill="none" stroke="#111" stroke-width="1.3" stroke-linejoin="round" stroke-linecap="round"/>
<polyline points="539.1,367.6 539.1,611.3" fill="none" stroke="#111" stroke-width="1.3" stroke-linejoin="round" stroke-linecap="round"/>
<polyline points="544.8,375.0 544.8,609.0" fill="none" stroke="#111" stroke-width="1.1" stroke-linejoin="round" stroke-linecap="round"/>
<polyline points="547.5,377.0 547.5,602.0" fill="none" stroke="#111" stroke-width="1.0" stroke-linejoin="round" stroke-linecap="round"/>
<polyline points="539.1,611.3 683.0,549.6" fill="none" stroke="#111" stroke-width="1.2" stroke-linejoin="round" stroke-linecap="round"/>
<polyline points="544.8,602.2 672.7,548.0" fill="none" stroke="#111" stroke-width="1.0" stroke-linejoin="round" stroke-linecap="round"/>
<polyline points="547.1,595.3 670.5,542.8" fill="none" stroke="#111" stroke-width="1.1" stroke-linejoin="round" stroke-linecap="round"/>
<polyline points="683.0,318.0 683.0,549.6" fill="none" stroke="#111" stroke-width="1.2" stroke-linejoin="round" stroke-linecap="round"/>
<polyline points="676.2,324.0 676.2,544.0" fill="none" stroke="#111" stroke-width="1.1" stroke-linejoin="round" stroke-linecap="round"/>
<polyline points="671.0,327.0 671.0,543.0" fill="none" stroke="#111" stroke-width="1.0" stroke-linejoin="round" stroke-linecap="round"/>
<polyline points="577.9,484.5 670.5,542.8" fill="none" stroke="#111" stroke-width="1.1" stroke-linejoin="round" stroke-linecap="round"/>
<polyline points="547.1,434.3 577.9,426.3 577.9,484.5 547.1,491.4" fill="none" stroke="#111" stroke-width="1.1" stroke-linejoin="round" stroke-linecap="round"/>
<polyline points="547.1,440.0 577.9,429.7" fill="none" stroke="#111" stroke-width="1.0" stroke-linejoin="round" stroke-linecap="round"/>
<polyline points="547.1,497.1 577.9,486.8" fill="none" stroke="#111" stroke-width="1.0" stroke-linejoin="round" stroke-linecap="round"/>
<polyline points="547.1,413.7 573.4,421.7 577.9,426.3" fill="none" stroke="#111" stroke-width="1.0" stroke-linejoin="round" stroke-linecap="round"/>
<polyline points="558.5,395.4 558.5,406.9" fill="none" stroke="#111" stroke-width="1.0" stroke-linejoin="round" stroke-linecap="round"/>
<polyline points="591.6,373.4 591.6,369.6 666.8,418.8" fill="none" stroke="#111" stroke-width="1.1" stroke-linejoin="round" stroke-linecap="round"/>
<polyline points="591.6,373.4 666.8,422.6" fill="none" stroke="#111" stroke-width="1.3" stroke-linejoin="round" stroke-linecap="round"/>
<polyline points="634.3,401.9 634.3,405.3 638.8,407.9 638.8,404.6" fill="none" stroke="#111" stroke-width="1.0" stroke-linejoin="round" stroke-linecap="round"/>
<polyline points="666.8,415.5 675.1,419.0 675.1,428.5 666.8,423.8" fill="none" stroke="#111" stroke-width="1.1" stroke-linejoin="round" stroke-linecap="round"/>
<polyline points="591.6,399.2 591.6,395.5 666.8,444.6" fill="none" stroke="#111" stroke-width="1.1" stroke-linejoin="round" stroke-linecap="round"/>
<polyline points="591.6,399.2 666.8,448.4" fill="none" stroke="#111" stroke-width="1.3" stroke-linejoin="round" stroke-linecap="round"/>
<polyline points="634.3,427.7 634.3,431.2 638.8,433.7 638.8,430.4" fill="none" stroke="#111" stroke-width="1.0" stroke-linejoin="round" stroke-linecap="round"/>
<polyline points="666.8,441.3 675.1,444.8 675.1,454.4 666.8,449.6" fill="none" stroke="#111" stroke-width="1.1" stroke-linejoin="round" stroke-linecap="round"/>
<polyline points="591.6,426.6 591.6,422.8 666.8,470.6" fill="none" stroke="#111" stroke-width="1.1" stroke-linejoin="round" stroke-linecap="round"/>
<polyline points="591.6,426.6 666.8,474.4" fill="none" stroke="#111" stroke-width="1.3" stroke-linejoin="round" stroke-linecap="round"/>
<polyline points="634.3,454.2 634.3,457.7 638.8,460.3 638.8,456.9" fill="none" stroke="#111" stroke-width="1.0" stroke-linejoin="round" stroke-linecap="round"/>
<polyline points="666.8,467.3 675.1,470.6 675.1,480.2 666.8,475.6" fill="none" stroke="#111" stroke-width="1.1" stroke-linejoin="round" stroke-linecap="round"/>
<polyline points="609.8,359.8 609.8,356.0 666.8,391.7" fill="none" stroke="#111" stroke-width="1.1" stroke-linejoin="round" stroke-linecap="round"/>
<polyline points="609.8,359.8 666.8,395.5" fill="none" stroke="#111" stroke-width="1.3" stroke-linejoin="round" stroke-linecap="round"/>
<polyline points="643.0,381.1 643.0,384.6 647.6,387.2 647.6,383.8" fill="none" stroke="#111" stroke-width="1.0" stroke-linejoin="round" stroke-linecap="round"/>
<polyline points="666.8,388.4 675.1,391.7 675.1,401.2 666.8,396.7" fill="none" stroke="#111" stroke-width="1.1" stroke-linejoin="round" stroke-linecap="round"/>
<polyline points="634.1,350.7 634.1,346.9 666.8,366.2" fill="none" stroke="#111" stroke-width="1.1" stroke-linejoin="round" stroke-linecap="round"/>
<polyline points="634.1,350.7 666.8,370.0" fill="none" stroke="#111" stroke-width="1.3" stroke-linejoin="round" stroke-linecap="round"/>
<polyline points="666.8,362.9 675.1,365.8 675.1,375.4 666.8,371.2" fill="none" stroke="#111" stroke-width="1.1" stroke-linejoin="round" stroke-linecap="round"/>
<polyline points="658.4,338.5 658.4,334.7 666.8,339.3" fill="none" stroke="#111" stroke-width="1.1" stroke-linejoin="round" stroke-linecap="round"/>
<polyline points="658.4,338.5 666.8,343.1" fill="none" stroke="#111" stroke-width="1.3" stroke-linejoin="round" stroke-linecap="round"/>
<polyline points="666.8,335.9 675.1,338.5 675.1,348.1 666.8,344.3" fill="none" stroke="#111" stroke-width="1.1" stroke-linejoin="round" stroke-linecap="round"/>
<polyline points="555.2,379.2 570.4,388.3 570.4,391.4 555.2,382.2 555.2,379.2" fill="none" stroke="#111" stroke-width="1.0" stroke-linejoin="round" stroke-linecap="round"/>
<polyline points="559.0,376.9 559.0,408.1" fill="none" stroke="#111" stroke-width="1.0" stroke-linejoin="round" stroke-linecap="round"/>
<polyline points="547.6,377.7 547.6,409.6" fill="none" stroke="#111" stroke-width="2.2" stroke-linejoin="round" stroke-linecap="round"/>
<ellipse cx="550.6" cy="411.1" rx="2.5" ry="1.3" fill="none" stroke="#111" stroke-width="1.0"/>
<polyline points="537.0,614.0 547.0,614.0 547.0,620.0 545.0,626.5 537.5,626.5 536.5,620.0 537.0,614.0" fill="none" stroke="#111" stroke-width="1.2" stroke-linejoin="round" stroke-linecap="round"/>
<polyline points="539.0,614.5 544.5,614.5 544.5,617.5 539.0,617.5 539.0,614.5" fill="none" stroke="#111" stroke-width="1.0" stroke-linejoin="round" stroke-linecap="round"/>
<polyline points="541.8,628.0 541.8,634.0" fill="none" stroke="#111" stroke-width="2.0" stroke-linejoin="round" stroke-linecap="round"/>
<polyline points="697.0,318.0 702.0,315.0 706.0,322.0 703.0,327.0 697.0,322.0 697.0,318.0" fill="none" stroke="#111" stroke-width="1.4" stroke-linejoin="round" stroke-linecap="round"/>
<polyline points="687.1,548.4 688.9,547.2 698.3,544.2 702.7,544.2 712.5,553.7 711.9,561.9 696.5,555.4 687.1,551.6 687.1,548.4" fill="#fff" stroke="#111" stroke-width="1.4" stroke-linejoin="round" stroke-linecap="round"/>
<polyline points="687.7,550.1 696.5,553.7 711.9,560.2" fill="none" stroke="#111" stroke-width="1.6" stroke-linejoin="round" stroke-linecap="round"/>
<polyline points="698.3,544.8 712.5,554.0" fill="none" stroke="#111" stroke-width="1.0" stroke-linejoin="round" stroke-linecap="round"/>
<polyline points="699.5,546.6 702.4,547.2" fill="none" stroke="#111" stroke-width="1.6" stroke-linejoin="round" stroke-linecap="round"/>
<polyline points="699.5,552.5 708.4,556.6" fill="none" stroke="#111" stroke-width="2.0" stroke-linejoin="round" stroke-linecap="round"/>
<ellipse cx="692.4" cy="551.3" rx="1.6" ry="1.2" fill="none" stroke="#111" stroke-width="1.4"/>
<polyline points="706.9,538.3 706.9,543.6" fill="none" stroke="#111" stroke-width="1.8" stroke-linejoin="round" stroke-linecap="round"/>
<polyline points="705.4,543.6 709.5,543.6" fill="none" stroke="#111" stroke-width="1.8" stroke-linejoin="round" stroke-linecap="round"/>
<polyline points="714.6,546.6 714.6,550.7" fill="none" stroke="#111" stroke-width="1.8" stroke-linejoin="round" stroke-linecap="round"/>
<polyline points="712.5,550.1 716.6,550.1" fill="none" stroke="#111" stroke-width="1.8" stroke-linejoin="round" stroke-linecap="round"/>
<polyline points="696.5,556.6 696.5,563.7" fill="none" stroke="#111" stroke-width="2.2" stroke-linejoin="round" stroke-linecap="round"/>
<polyline points="694.2,563.7 698.9,563.7" fill="none" stroke="#111" stroke-width="1.8" stroke-linejoin="round" stroke-linecap="round"/>
<polygon points="716.0,556.6 719.6,556.6 720.8,561.3 723.7,562.5 723.7,569.6 720.8,572.0 715.4,572.6 712.2,570.2 712.2,566.1 716.0,562.5 716.0,556.6" fill="#111" stroke="#111" stroke-width="1.2" stroke-linejoin="round" stroke-linecap="round"/>
<polyline points="713.1,566.7 720.8,572.0" fill="none" stroke="#fff" stroke-width="1.0" stroke-linejoin="round" stroke-linecap="round"/>
<polyline points="720.8,562.5 721.9,565.5 720.2,566.7" fill="none" stroke="#fff" stroke-width="1.0" stroke-linejoin="round" stroke-linecap="round"/>
<path d="M765.3,547.5 C765.3,527.0 765.0,447.9 765.3,424.4 C765.6,400.9 765.3,411.7 767.1,406.7 C768.9,401.7 774.5,396.3 775.9,394.3 L869.8,366.8 L869.8,513.8 L765.3,547.5" fill="none" stroke="#111" stroke-width="1.3" stroke-linejoin="round" stroke-linecap="round"/>
<polyline points="775.9,395.2 869.8,367.7" fill="none" stroke="#111" stroke-width="1.8" stroke-linejoin="round" stroke-linecap="round"/>
<polyline points="852.1,373.0 852.1,509.4" fill="none" stroke="#111" stroke-width="1.1" stroke-linejoin="round" stroke-linecap="round"/>
<polyline points="853.9,372.1 853.9,509.1" fill="none" stroke="#111" stroke-width="1.0" stroke-linejoin="round" stroke-linecap="round"/>
<polyline points="856.5,397.8 856.5,491.7 861.0,490.8 861.0,396.9 856.5,397.8" fill="none" stroke="#111" stroke-width="1.0" stroke-linejoin="round" stroke-linecap="round"/>
<polyline points="856.5,373.0 856.5,391.6 868.9,380.1" fill="none" stroke="#111" stroke-width="1.0" stroke-linejoin="round" stroke-linecap="round"/>
<polyline points="864.5,357.1 876.9,361.5 873.4,365.9 866.3,367.7 864.5,357.1" fill="none" stroke="#111" stroke-width="1.4" stroke-linejoin="round" stroke-linecap="round"/>
<polyline points="866.3,367.7 866.3,380.1" fill="none" stroke="#111" stroke-width="1.0" stroke-linejoin="round" stroke-linecap="round"/>
<polyline points="775.1,445.6 774.2,401.4 776.8,396.4 845.0,382.8 848.6,384.5 849.4,426.2 846.8,429.7 775.1,445.6" fill="none" stroke="#111" stroke-width="1.1" stroke-linejoin="round" stroke-linecap="round"/>
<polyline points="780.4,442.1 780.9,403.1 783.9,400.1 841.5,388.1 844.1,389.9 844.7,424.4 841.8,427.4 780.4,442.1" fill="none" stroke="#111" stroke-width="1.0" stroke-linejoin="round" stroke-linecap="round"/>
<path d="M786.6,438.6 L786.6,405.8 A2,2 0 0 1 790.5,405.1 L790.5,437.8 A2,2 0 0 1 786.6,438.6" fill="none" stroke="#111" stroke-width="1.0" stroke-linejoin="round" stroke-linecap="round"/>
<path d="M793.3,436.8 L793.3,403.9 A2,2 0 0 1 797.2,403.2 L797.2,436.1 A2,2 0 0 1 793.3,436.8" fill="none" stroke="#111" stroke-width="1.0" stroke-linejoin="round" stroke-linecap="round"/>
<path d="M800.0,435.0 L800.0,402.1 A2,2 0 0 1 803.9,401.4 L803.9,434.3 A2,2 0 0 1 800.0,435.0" fill="none" stroke="#111" stroke-width="1.0" stroke-linejoin="round" stroke-linecap="round"/>
<path d="M806.8,433.2 L806.8,400.2 A2,2 0 0 1 810.7,399.5 L810.7,432.5 A2,2 0 0 1 806.8,433.2" fill="none" stroke="#111" stroke-width="1.0" stroke-linejoin="round" stroke-linecap="round"/>
<path d="M813.5,431.5 L813.5,398.4 A2,2 0 0 1 817.4,397.6 L817.4,430.8 A2,2 0 0 1 813.5,431.5" fill="none" stroke="#111" stroke-width="1.0" stroke-linejoin="round" stroke-linecap="round"/>
<path d="M820.2,429.7 L820.2,396.5 A2,2 0 0 1 824.1,395.8 L824.1,429.0 A2,2 0 0 1 820.2,429.7" fill="none" stroke="#111" stroke-width="1.0" stroke-linejoin="round" stroke-linecap="round"/>
<path d="M827.0,427.9 L827.0,394.6 A2,2 0 0 1 830.8,393.9 L830.8,427.2 A2,2 0 0 1 827.0,427.9" fill="none" stroke="#111" stroke-width="1.0" stroke-linejoin="round" stroke-linecap="round"/>
<path d="M833.7,426.2 L833.7,392.8 A2,2 0 0 1 837.6,392.1 L837.6,425.5 A2,2 0 0 1 833.7,426.2" fill="none" stroke="#111" stroke-width="1.0" stroke-linejoin="round" stroke-linecap="round"/>
<path d="M840.4,424.4 L840.4,390.9 A2,2 0 0 1 844.3,390.2 L844.3,423.7 A2,2 0 0 1 840.4,424.4" fill="none" stroke="#111" stroke-width="1.0" stroke-linejoin="round" stroke-linecap="round"/>
<polyline points="772.4,504.1 772.4,456.3 775.1,453.6 849.4,439.4 852.1,441.7 852.1,491.7 849.4,493.8 772.4,504.1" fill="none" stroke="#111" stroke-width="1.1" stroke-linejoin="round" stroke-linecap="round"/>
<path d="M776.8,459.8 L844.1,444.8 A2.6,2.6 0 0 1 844.1,450.1 L776.8,465.1 A2.6,2.6 0 0 1 776.8,459.8" fill="none" stroke="#111" stroke-width="1.0" stroke-linejoin="round" stroke-linecap="round"/>
<line x1="779.5" y1="461.9" x2="841.5" y2="448.1" stroke="#111" stroke-width="1.0" stroke-linecap="round"/>
<path d="M776.8,470.8 L844.1,455.7 A2.6,2.6 0 0 1 844.1,461.1 L776.8,476.1 A2.6,2.6 0 0 1 776.8,470.8" fill="none" stroke="#111" stroke-width="1.0" stroke-linejoin="round" stroke-linecap="round"/>
<line x1="779.5" y1="472.9" x2="841.5" y2="459.1" stroke="#111" stroke-width="1.0" stroke-linecap="round"/>
<path d="M776.8,481.8 L844.1,466.7 A2.6,2.6 0 0 1 844.1,472.0 L776.8,487.1 A2.6,2.6 0 0 1 776.8,481.8" fill="none" stroke="#111" stroke-width="1.0" stroke-linejoin="round" stroke-linecap="round"/>
<line x1="779.5" y1="483.9" x2="841.5" y2="470.1" stroke="#111" stroke-width="1.0" stroke-linecap="round"/>
<path d="M776.8,492.8 L844.1,477.7 A2.6,2.6 0 0 1 844.1,483.0 L776.8,498.1 A2.6,2.6 0 0 1 776.8,492.8" fill="none" stroke="#111" stroke-width="1.0" stroke-linejoin="round" stroke-linecap="round"/>
<line x1="779.5" y1="494.9" x2="841.5" y2="481.1" stroke="#111" stroke-width="1.0" stroke-linecap="round"/>
<polyline points="775.1,536.0 775.1,505.9 864.5,488.2 864.5,507.6 775.1,536.0" fill="none" stroke="#111" stroke-width="1.1" stroke-linejoin="round" stroke-linecap="round"/>
<polyline points="783.0,532.4 783.0,514.7 855.6,497.0 855.6,510.3" fill="none" stroke="#111" stroke-width="1.0" stroke-linejoin="round" stroke-linecap="round"/>
<ellipse cx="790.1" cy="517.4" rx="2.0" ry="1.8" fill="none" stroke="#111" stroke-width="1.0"/>
<ellipse cx="798.8" cy="515.1" rx="2.0" ry="1.8" fill="none" stroke="#111" stroke-width="1.0"/>
<ellipse cx="807.5" cy="512.8" rx="2.0" ry="1.8" fill="none" stroke="#111" stroke-width="1.0"/>
<ellipse cx="816.1" cy="510.5" rx="2.0" ry="1.8" fill="none" stroke="#111" stroke-width="1.0"/>
<ellipse cx="824.8" cy="508.2" rx="2.0" ry="1.8" fill="none" stroke="#111" stroke-width="1.0"/>
<ellipse cx="833.5" cy="505.9" rx="2.0" ry="1.8" fill="none" stroke="#111" stroke-width="1.0"/>
<ellipse cx="842.2" cy="503.6" rx="2.0" ry="1.8" fill="none" stroke="#111" stroke-width="1.0"/>
<ellipse cx="850.9" cy="501.3" rx="2.0" ry="1.8" fill="none" stroke="#111" stroke-width="1.0"/>
<ellipse cx="790.1" cy="527.1" rx="2.0" ry="1.8" fill="none" stroke="#111" stroke-width="1.0"/>
<ellipse cx="798.8" cy="524.8" rx="2.0" ry="1.8" fill="none" stroke="#111" stroke-width="1.0"/>
<ellipse cx="807.5" cy="522.5" rx="2.0" ry="1.8" fill="none" stroke="#111" stroke-width="1.0"/>
<ellipse cx="816.1" cy="520.2" rx="2.0" ry="1.8" fill="none" stroke="#111" stroke-width="1.0"/>
<ellipse cx="824.8" cy="517.9" rx="2.0" ry="1.8" fill="none" stroke="#111" stroke-width="1.0"/>
<ellipse cx="833.5" cy="515.6" rx="2.0" ry="1.8" fill="none" stroke="#111" stroke-width="1.0"/>
<ellipse cx="842.2" cy="513.3" rx="2.0" ry="1.8" fill="none" stroke="#111" stroke-width="1.0"/>
<ellipse cx="850.9" cy="511.0" rx="2.0" ry="1.8" fill="none" stroke="#111" stroke-width="1.0"/>
<ellipse cx="768.9" cy="440.3" rx="1.3" ry="1.3" fill="none" stroke="#111" stroke-width="1.0"/>
<ellipse cx="866.3" cy="412.9" rx="1.3" ry="1.3" fill="none" stroke="#111" stroke-width="1.0"/>
<ellipse cx="866.3" cy="486.4" rx="1.3" ry="1.3" fill="none" stroke="#111" stroke-width="1.0"/>
<ellipse cx="768.0" cy="511.2" rx="1.3" ry="1.3" fill="none" stroke="#111" stroke-width="1.0"/>
<polyline points="760.0,440.3 761.8,442.1" fill="none" stroke="#111" stroke-width="2" stroke-linejoin="round" stroke-linecap="round"/>
<polyline points="873.4,412.9 876.9,415.5" fill="none" stroke="#111" stroke-width="2" stroke-linejoin="round" stroke-linecap="round"/>
<polyline points="873.4,482.8 876.9,485.5" fill="none" stroke="#111" stroke-width="2" stroke-linejoin="round" stroke-linecap="round"/>
<polyline points="760.0,511.2 761.8,512.9" fill="none" stroke="#111" stroke-width="2" stroke-linejoin="round" stroke-linecap="round"/>
<polyline points="865.2,516.2 865.2,651.4 867.6,651.4 867.6,516.2" fill="none" stroke="#111" stroke-width="1.0" stroke-linejoin="round" stroke-linecap="round"/>
<polyline points="867.0,651.4 867.0,683.3" fill="none" stroke="#111" stroke-width="1.0" stroke-linejoin="round" stroke-linecap="round"/>
<polyline points="863.9,529.9 869.1,531.7" fill="none" stroke="#111" stroke-width="1.2" stroke-linejoin="round" stroke-linecap="round"/>
<polyline points="863.9,533.8 869.1,535.6" fill="none" stroke="#111" stroke-width="1.2" stroke-linejoin="round" stroke-linecap="round"/>
<polyline points="863.9,537.8 869.1,539.6" fill="none" stroke="#111" stroke-width="1.2" stroke-linejoin="round" stroke-linecap="round"/>
<polyline points="863.9,541.7 869.1,543.5" fill="none" stroke="#111" stroke-width="1.2" stroke-linejoin="round" stroke-linecap="round"/>
<polyline points="863.9,545.7 869.1,547.5" fill="none" stroke="#111" stroke-width="1.2" stroke-linejoin="round" stroke-linecap="round"/>
<polyline points="863.9,549.6 869.1,551.4" fill="none" stroke="#111" stroke-width="1.2" stroke-linejoin="round" stroke-linecap="round"/>
<polyline points="863.9,553.5 869.1,555.4" fill="none" stroke="#111" stroke-width="1.2" stroke-linejoin="round" stroke-linecap="round"/>
<polyline points="863.9,557.5 869.1,559.3" fill="none" stroke="#111" stroke-width="1.2" stroke-linejoin="round" stroke-linecap="round"/>
<polyline points="863.9,561.4 869.1,563.3" fill="none" stroke="#111" stroke-width="1.2" stroke-linejoin="round" stroke-linecap="round"/>
<polyline points="863.9,565.4 869.1,567.2" fill="none" stroke="#111" stroke-width="1.2" stroke-linejoin="round" stroke-linecap="round"/>
<polyline points="863.9,569.3 869.1,571.2" fill="none" stroke="#111" stroke-width="1.2" stroke-linejoin="round" stroke-linecap="round"/>
<polyline points="863.9,573.3 869.1,575.1" fill="none" stroke="#111" stroke-width="1.2" stroke-linejoin="round" stroke-linecap="round"/>
<polyline points="863.9,577.2 869.1,579.1" fill="none" stroke="#111" stroke-width="1.2" stroke-linejoin="round" stroke-linecap="round"/>
<polyline points="863.9,581.2 869.1,583.0" fill="none" stroke="#111" stroke-width="1.2" stroke-linejoin="round" stroke-linecap="round"/>
<polyline points="863.9,585.1 869.1,587.0" fill="none" stroke="#111" stroke-width="1.2" stroke-linejoin="round" stroke-linecap="round"/>
<polyline points="863.9,589.1 869.1,590.9" fill="none" stroke="#111" stroke-width="1.2" stroke-linejoin="round" stroke-linecap="round"/>
<polyline points="863.9,593.0 869.1,594.9" fill="none" stroke="#111" stroke-width="1.2" stroke-linejoin="round" stroke-linecap="round"/>
<polyline points="863.9,597.0 869.1,598.8" fill="none" stroke="#111" stroke-width="1.2" stroke-linejoin="round" stroke-linecap="round"/>
<polyline points="863.9,600.9 869.1,602.8" fill="none" stroke="#111" stroke-width="1.2" stroke-linejoin="round" stroke-linecap="round"/>
<polyline points="863.9,604.9 869.1,606.7" fill="none" stroke="#111" stroke-width="1.2" stroke-linejoin="round" stroke-linecap="round"/>
<polyline points="982.1,320.1 982.1,59.5 992.0,53.8 1147.0,34.1 1161.1,36.9 1161.1,42.5" fill="none" stroke="#111" stroke-width="1.3" stroke-linejoin="round" stroke-linecap="round"/>
<polyline points="985.0,318.7 985.0,62.3" fill="none" stroke="#111" stroke-width="1.0" stroke-linejoin="round" stroke-linecap="round"/>
<polyline points="993.4,315.9 993.4,65.1" fill="none" stroke="#111" stroke-width="1.0" stroke-linejoin="round" stroke-linecap="round"/>
<polyline points="997.6,314.5 997.6,69.3 1000.5,67.9" fill="none" stroke="#111" stroke-width="1.8" stroke-linejoin="round" stroke-linecap="round"/>
<polyline points="1003.3,313.1 1003.3,77.8 1023.0,73.5" fill="none" stroke="#111" stroke-width="1.0" stroke-linejoin="round" stroke-linecap="round"/>
<polyline points="982.1,60.9 1155.4,41.1" fill="none" stroke="#111" stroke-width="1.0" stroke-linejoin="round" stroke-linecap="round"/>
<polyline points="985.0,65.1 1158.3,45.4" fill="none" stroke="#111" stroke-width="1.6" stroke-linejoin="round" stroke-linecap="round"/>
<polyline points="997.6,69.3 1158.3,48.2" fill="none" stroke="#111" stroke-width="1.0" stroke-linejoin="round" stroke-linecap="round"/>
<polyline points="982.1,320.1 1020.2,314.5" fill="none" stroke="#111" stroke-width="1.2" stroke-linejoin="round" stroke-linecap="round"/>
<polyline points="982.1,317.3 1020.2,311.7" fill="none" stroke="#111" stroke-width="1.0" stroke-linejoin="round" stroke-linecap="round"/>
<polyline points="997.6,313.1 1020.2,308.8" fill="none" stroke="#111" stroke-width="1.6" stroke-linejoin="round" stroke-linecap="round"/>
<polyline points="1020.2,66.5 1187.8,46.8 1187.8,307.4 1023.0,330.0 1020.2,328.6 1020.2,66.5" fill="#fff" stroke="#111" stroke-width="1.3" stroke-linejoin="round" stroke-linecap="round"/>
<polyline points="1031.4,76.4 1152.6,59.5" fill="none" stroke="#111" stroke-width="1.0" stroke-linejoin="round" stroke-linecap="round"/>
<polyline points="1020.2,66.5 1031.4,76.4 1031.4,317.3 1023.0,330.0" fill="none" stroke="#111" stroke-width="1.1" stroke-linejoin="round" stroke-linecap="round"/>
<polyline points="1022.1,68.5 1022.1,328.6" fill="none" stroke="#111" stroke-width="1.0" stroke-linejoin="round" stroke-linecap="round"/>
<polyline points="1187.8,46.8 1178.0,56.6 1178.0,297.6 1187.8,307.4" fill="none" stroke="#111" stroke-width="1.1" stroke-linejoin="round" stroke-linecap="round"/>
<polyline points="1031.4,76.4 1178.0,56.6" fill="none" stroke="#111" stroke-width="1.1" stroke-linejoin="round" stroke-linecap="round"/>
<polyline points="1031.4,317.3 1178.0,297.6" fill="none" stroke="#111" stroke-width="1.1" stroke-linejoin="round" stroke-linecap="round"/>
<polyline points="1152.6,59.5 1152.6,290.5" fill="none" stroke="#111" stroke-width="1.0" stroke-linejoin="round" stroke-linecap="round"/>
<polyline points="1156.9,59.5 1156.9,293.3" fill="none" stroke="#111" stroke-width="1.0" stroke-linejoin="round" stroke-linecap="round"/>
<polyline points="1161.1,58.0 1161.1,294.8" fill="none" stroke="#111" stroke-width="1.0" stroke-linejoin="round" stroke-linecap="round"/>
<polyline points="1180.8,55.2 1180.8,299.0" fill="none" stroke="#111" stroke-width="1.0" stroke-linejoin="round" stroke-linecap="round"/>
<polyline points="1031.4,304.6 1152.6,282.1" fill="none" stroke="#111" stroke-width="1.0" stroke-linejoin="round" stroke-linecap="round"/>
<polyline points="1031.4,310.3 1156.9,287.7" fill="none" stroke="#111" stroke-width="1.6" stroke-linejoin="round" stroke-linecap="round"/>
<polyline points="1031.4,313.1 1161.1,291.9" fill="none" stroke="#111" stroke-width="1.0" stroke-linejoin="round" stroke-linecap="round"/>
<polyline points="1024.4,69.3 1183.6,50.4" fill="none" stroke="#111" stroke-width="1.0" stroke-linejoin="round" stroke-linecap="round"/>
<path d="M1032.0,101.7 L1124.4,91.6 A4.2,4.2 0 0 1 1124.4,99.5 Q1070.9,102.8 1032.0,109.3" fill="none" stroke="#111" stroke-width="1.2" stroke-linejoin="round" stroke-linecap="round"/>
<path d="M1032.0,116.7 L1124.4,106.6 A4.2,4.2 0 0 1 1124.4,114.5 Q1070.9,117.8 1032.0,124.3" fill="none" stroke="#111" stroke-width="1.2" stroke-linejoin="round" stroke-linecap="round"/>
<path d="M1032.0,131.7 L1124.4,121.6 A4.2,4.2 0 0 1 1124.4,129.5 Q1070.9,132.8 1032.0,139.3" fill="none" stroke="#111" stroke-width="1.2" stroke-linejoin="round" stroke-linecap="round"/>
<path d="M1032.0,146.7 L1124.4,136.6 A4.2,4.2 0 0 1 1124.4,144.4 Q1070.9,147.8 1032.0,154.3" fill="none" stroke="#111" stroke-width="1.2" stroke-linejoin="round" stroke-linecap="round"/>
<path d="M1032.0,161.7 L1124.4,151.5 A4.2,4.2 0 0 1 1124.4,159.4 Q1070.9,162.8 1032.0,169.3" fill="none" stroke="#111" stroke-width="1.2" stroke-linejoin="round" stroke-linecap="round"/>
<path d="M1032.0,176.7 L1124.4,166.5 A4.2,4.2 0 0 1 1124.4,174.4 Q1070.9,177.8 1032.0,184.3" fill="none" stroke="#111" stroke-width="1.2" stroke-linejoin="round" stroke-linecap="round"/>
<path d="M1032.0,191.7 L1124.4,181.5 A4.2,4.2 0 0 1 1124.4,189.4 Q1070.9,192.8 1032.0,199.3" fill="none" stroke="#111" stroke-width="1.2" stroke-linejoin="round" stroke-linecap="round"/>
<path d="M1032.0,206.7 L1124.4,196.5 A4.2,4.2 0 0 1 1124.4,204.4 Q1070.9,207.8 1032.0,214.3" fill="none" stroke="#111" stroke-width="1.2" stroke-linejoin="round" stroke-linecap="round"/>
<path d="M1032.0,221.7 L1124.4,211.5 A4.2,4.2 0 0 1 1124.4,219.4 Q1070.9,222.8 1032.0,229.3" fill="none" stroke="#111" stroke-width="1.2" stroke-linejoin="round" stroke-linecap="round"/>
<path d="M1032.0,236.6 L1124.4,226.5 A4.2,4.2 0 0 1 1124.4,234.4 Q1070.9,237.8 1032.0,244.3" fill="none" stroke="#111" stroke-width="1.2" stroke-linejoin="round" stroke-linecap="round"/>
<path d="M1032.0,251.6 L1124.4,241.5 A4.2,4.2 0 0 1 1124.4,249.4 Q1070.9,252.8 1032.0,259.2" fill="none" stroke="#111" stroke-width="1.2" stroke-linejoin="round" stroke-linecap="round"/>
<path d="M1032.0,266.6 L1124.4,256.5 A4.2,4.2 0 0 1 1124.4,264.4 Q1070.9,267.8 1032.0,274.2" fill="none" stroke="#111" stroke-width="1.2" stroke-linejoin="round" stroke-linecap="round"/>
<polyline points="1210.5,39.5 1212.0,41.5 1214.0,42.0" fill="none" stroke="#111" stroke-width="1.3" stroke-linejoin="round" stroke-linecap="round"/>
<path d="M939.2,480.2 L1055.0,426.1 L1116.7,494.4 L999.0,553.3 Z" fill="none" stroke="#111" stroke-width="3.0" stroke-linejoin="round" stroke-linecap="round"/>
<path d="M939.2,480.2 L1055.0,426.1 L1116.7,494.4 L999.0,553.3 Z" fill="none" stroke="#fff" stroke-width="1.0" stroke-linejoin="round" stroke-linecap="round"/>
<polyline points="916.4,456.4 1032.2,399.5" fill="none" stroke="#111" stroke-width="1.6" stroke-linejoin="round" stroke-linecap="round"/>
<line x1="921.0" y1="454.1" x2="1003.7" y2="550.9" stroke="#111" stroke-width="1.45" stroke-linecap="round"/>
<line x1="928.6" y1="450.4" x2="1011.4" y2="547.1" stroke="#111" stroke-width="1.45" stroke-linecap="round"/>
<line x1="936.3" y1="446.6" x2="1019.2" y2="543.2" stroke="#111" stroke-width="1.45" stroke-linecap="round"/>
<line x1="943.9" y1="442.9" x2="1026.9" y2="539.3" stroke="#111" stroke-width="1.45" stroke-linecap="round"/>
<line x1="951.5" y1="439.2" x2="1034.6" y2="535.5" stroke="#111" stroke-width="1.45" stroke-linecap="round"/>
<line x1="959.1" y1="435.4" x2="1042.4" y2="531.6" stroke="#111" stroke-width="1.45" stroke-linecap="round"/>
<line x1="966.7" y1="431.7" x2="1050.1" y2="527.7" stroke="#111" stroke-width="1.45" stroke-linecap="round"/>
<line x1="974.3" y1="427.9" x2="1057.8" y2="523.8" stroke="#111" stroke-width="1.45" stroke-linecap="round"/>
<line x1="981.9" y1="424.2" x2="1065.6" y2="520.0" stroke="#111" stroke-width="1.45" stroke-linecap="round"/>
<line x1="989.5" y1="420.5" x2="1073.3" y2="516.1" stroke="#111" stroke-width="1.45" stroke-linecap="round"/>
<line x1="997.1" y1="416.7" x2="1081.1" y2="512.2" stroke="#111" stroke-width="1.45" stroke-linecap="round"/>
<line x1="1004.7" y1="413.0" x2="1088.8" y2="508.4" stroke="#111" stroke-width="1.45" stroke-linecap="round"/>
<line x1="1012.3" y1="409.3" x2="1096.5" y2="504.5" stroke="#111" stroke-width="1.45" stroke-linecap="round"/>
<line x1="1020.0" y1="405.5" x2="1104.3" y2="500.6" stroke="#111" stroke-width="1.45" stroke-linecap="round"/>
<line x1="1027.6" y1="401.8" x2="1112.0" y2="496.8" stroke="#111" stroke-width="1.45" stroke-linecap="round"/>
<line x1="946.4" y1="489.0" x2="1062.4" y2="434.3" stroke="#111" stroke-width="1.1" stroke-linecap="round"/>
<path d="M937.7,532.2 L1053.5,478.1 L1115.2,546.4 L997.5,605.3 Z" fill="none" stroke="#111" stroke-width="3.0" stroke-linejoin="round" stroke-linecap="round"/>
<path d="M937.7,532.2 L1053.5,478.1 L1115.2,546.4 L997.5,605.3 Z" fill="none" stroke="#fff" stroke-width="1.0" stroke-linejoin="round" stroke-linecap="round"/>
<polyline points="914.9,508.4 1030.7,451.5" fill="none" stroke="#111" stroke-width="1.6" stroke-linejoin="round" stroke-linecap="round"/>
<line x1="919.5" y1="506.1" x2="1002.2" y2="602.9" stroke="#111" stroke-width="1.45" stroke-linecap="round"/>
<line x1="927.1" y1="502.4" x2="1009.9" y2="599.1" stroke="#111" stroke-width="1.45" stroke-linecap="round"/>
<line x1="934.8" y1="498.6" x2="1017.7" y2="595.2" stroke="#111" stroke-width="1.45" stroke-linecap="round"/>
<line x1="942.4" y1="494.9" x2="1025.4" y2="591.3" stroke="#111" stroke-width="1.45" stroke-linecap="round"/>
<line x1="950.0" y1="491.2" x2="1033.1" y2="587.5" stroke="#111" stroke-width="1.45" stroke-linecap="round"/>
<line x1="957.6" y1="487.4" x2="1040.9" y2="583.6" stroke="#111" stroke-width="1.45" stroke-linecap="round"/>
<line x1="965.2" y1="483.7" x2="1048.6" y2="579.7" stroke="#111" stroke-width="1.45" stroke-linecap="round"/>
<line x1="972.8" y1="479.9" x2="1056.3" y2="575.8" stroke="#111" stroke-width="1.45" stroke-linecap="round"/>
<line x1="980.4" y1="476.2" x2="1064.1" y2="572.0" stroke="#111" stroke-width="1.45" stroke-linecap="round"/>
<line x1="988.0" y1="472.5" x2="1071.8" y2="568.1" stroke="#111" stroke-width="1.45" stroke-linecap="round"/>
<line x1="995.6" y1="468.7" x2="1079.6" y2="564.2" stroke="#111" stroke-width="1.45" stroke-linecap="round"/>
<line x1="1003.2" y1="465.0" x2="1087.3" y2="560.4" stroke="#111" stroke-width="1.45" stroke-linecap="round"/>
<line x1="1010.8" y1="461.3" x2="1095.0" y2="556.5" stroke="#111" stroke-width="1.45" stroke-linecap="round"/>
<line x1="1018.5" y1="457.5" x2="1102.8" y2="552.6" stroke="#111" stroke-width="1.45" stroke-linecap="round"/>
<line x1="1026.1" y1="453.8" x2="1110.5" y2="548.8" stroke="#111" stroke-width="1.45" stroke-linecap="round"/>
<line x1="944.9" y1="541.0" x2="1060.9" y2="486.3" stroke="#111" stroke-width="1.1" stroke-linecap="round"/>
<path d="M 970.1,692.4 C 968.2,686.9 968.2,679.6 976.5,675.0 L 1098.9,600.6 C 1104.4,597.7 1109.0,601.0 1109.9,611.0" fill="none" stroke="#111" stroke-width="1.5" stroke-linejoin="round" stroke-linecap="round"/>
<polyline points="970.6,690.9 1109.5,609.7" fill="none" stroke="#111" stroke-width="1.0" stroke-linejoin="round" stroke-linecap="round"/>
<polyline points="971.3,693.5 1109.9,612.3" fill="none" stroke="#111" stroke-width="1.0" stroke-linejoin="round" stroke-linecap="round"/>
<path d="M 1109.9,611.6 L 1186.6,666.8 C 1190.7,669.5 1190.7,675.0 1186.6,677.4 L 1059.6,751.2 C 1056.0,753.2 1052.3,752.7 1049.6,749.9 L 971.0,693.3" fill="none" stroke="#111" stroke-width="1.3" stroke-linejoin="round" stroke-linecap="round"/>
<polyline points="1185.7,678.6 1059.6,752.3" fill="none" stroke="#111" stroke-width="1.3" stroke-linejoin="round" stroke-linecap="round"/>
<polyline points="1179.3,673.2 1190.3,673.2" fill="none" stroke="#111" stroke-width="1.0" stroke-linejoin="round" stroke-linecap="round"/>
<polyline points="648.3,679.5 652.9,679.5 652.9,688.5 648.3,688.5 648.3,679.5" fill="none" stroke="#111" stroke-width="1.2" stroke-linejoin="round" stroke-linecap="round"/>
<polyline points="641.6,688.5 654.6,688.5 664.6,690.5 664.6,692.5 641.6,691.5 641.6,688.5" fill="none" stroke="#111" stroke-width="1.2" stroke-linejoin="round" stroke-linecap="round"/>
<polyline points="641.6,691.5 648.6,701.5 653.6,703.5" fill="none" stroke="#111" stroke-width="1.2" stroke-linejoin="round" stroke-linecap="round"/>
<ellipse cx="658.6" cy="703.5" rx="9.0" ry="9.0" fill="none" stroke="#111" stroke-width="1.2"/>
<ellipse cx="658.6" cy="703.5" rx="6.5" ry="7.0" fill="none" stroke="#111" stroke-width="1.0"/>
<ellipse cx="657.6" cy="703.5" rx="3.0" ry="3.0" fill="none" stroke="#111" stroke-width="1.6"/>
<circle cx="657.6" cy="703.5" r="1.6" fill="#111"/>
<polyline points="687.4,680.0 692.0,680.0 692.0,689.0 687.4,689.0 687.4,680.0" fill="none" stroke="#111" stroke-width="1.2" stroke-linejoin="round" stroke-linecap="round"/>
<polyline points="680.7,689.0 693.7,689.0 703.7,691.0 703.7,693.0 680.7,692.0 680.7,689.0" fill="none" stroke="#111" stroke-width="1.2" stroke-linejoin="round" stroke-linecap="round"/>
<polyline points="680.7,692.0 687.7,702.0 692.7,704.0" fill="none" stroke="#111" stroke-width="1.2" stroke-linejoin="round" stroke-linecap="round"/>
<ellipse cx="697.7" cy="704.0" rx="9.0" ry="9.0" fill="none" stroke="#111" stroke-width="1.2"/>
<ellipse cx="697.7" cy="704.0" rx="6.5" ry="7.0" fill="none" stroke="#111" stroke-width="1.0"/>
<ellipse cx="696.7" cy="704.0" rx="3.0" ry="3.0" fill="none" stroke="#111" stroke-width="1.6"/>
<circle cx="696.7" cy="704.0" r="1.6" fill="#111"/>
<polyline points="650.6,719.6 655.2,719.6 655.2,728.6 650.6,728.6 650.6,719.6" fill="none" stroke="#111" stroke-width="1.2" stroke-linejoin="round" stroke-linecap="round"/>
<polyline points="643.9,728.6 656.9,728.6 666.9,730.6 666.9,732.6 643.9,731.6 643.9,728.6" fill="none" stroke="#111" stroke-width="1.2" stroke-linejoin="round" stroke-linecap="round"/>
<polyline points="643.9,731.6 650.9,741.6 655.9,743.6" fill="none" stroke="#111" stroke-width="1.2" stroke-linejoin="round" stroke-linecap="round"/>
<ellipse cx="660.9" cy="743.6" rx="9.0" ry="9.0" fill="none" stroke="#111" stroke-width="1.2"/>
<ellipse cx="660.9" cy="743.6" rx="6.5" ry="7.0" fill="none" stroke="#111" stroke-width="1.0"/>
<ellipse cx="659.9" cy="743.6" rx="3.0" ry="3.0" fill="none" stroke="#111" stroke-width="1.6"/>
<circle cx="659.9" cy="743.6" r="1.6" fill="#111"/>
<polyline points="665.9,730.6 672.9,730.6 679.9,731.6" fill="none" stroke="#111" stroke-width="1.8" stroke-linejoin="round" stroke-linecap="round"/>
<polyline points="689.4,721.5 694.0,721.5 694.0,730.5 689.4,730.5 689.4,721.5" fill="none" stroke="#111" stroke-width="1.2" stroke-linejoin="round" stroke-linecap="round"/>
<polyline points="682.7,730.5 695.7,730.5 705.7,732.5 705.7,734.5 682.7,733.5 682.7,730.5" fill="none" stroke="#111" stroke-width="1.2" stroke-linejoin="round" stroke-linecap="round"/>
<polyline points="682.7,733.5 689.7,743.5 694.7,745.5" fill="none" stroke="#111" stroke-width="1.2" stroke-linejoin="round" stroke-linecap="round"/>
<ellipse cx="699.7" cy="745.5" rx="9.0" ry="9.0" fill="none" stroke="#111" stroke-width="1.2"/>
<ellipse cx="699.7" cy="745.5" rx="6.5" ry="7.0" fill="none" stroke="#111" stroke-width="1.0"/>
<ellipse cx="698.7" cy="745.5" rx="3.0" ry="3.0" fill="none" stroke="#111" stroke-width="1.6"/>
<circle cx="698.7" cy="745.5" r="1.6" fill="#111"/>
<polyline points="704.7,732.5 711.7,732.5 718.7,733.5" fill="none" stroke="#111" stroke-width="1.8" stroke-linejoin="round" stroke-linecap="round"/>
</g>
<g id="callouts">
<line x1="294.9" y1="686.9" x2="275.0" y2="659.5" class="ld"/>
<circle cx="302.9" cy="697.9" r="13.6" class="co"/>
<text x="302.9" y="703.9" font-size="17" text-anchor="middle" style="stroke-width:0.2px">1</text>
<line x1="85.9" y1="623.8" x2="96.0" y2="606.7" class="ld"/>
<circle cx="79.0" cy="635.5" r="13.6" class="co"/>
<text x="79.0" y="641.5" font-size="17" text-anchor="middle" style="stroke-width:0.2px">2</text>
<line x1="203.0" y1="540.3" x2="228.7" y2="540.5" class="ld"/>
<circle cx="189.4" cy="540.2" r="13.6" class="co"/>
<text x="189.4" y="546.2" font-size="17" text-anchor="middle" style="stroke-width:0.2px">3</text>
<line x1="360.0" y1="517.2" x2="318.3" y2="517.2" class="ld"/>
<circle cx="373.6" cy="517.2" r="13.6" class="co"/>
<text x="373.6" y="523.2" font-size="17" text-anchor="middle" style="stroke-width:0.2px">4</text>
<line x1="344.2" y1="482.1" x2="324.7" y2="502.8" class="ld"/>
<circle cx="353.5" cy="472.2" r="13.6" class="co"/>
<text x="353.5" y="478.2" font-size="17" text-anchor="middle" style="stroke-width:0.2px">5</text>
<line x1="43.4" y1="535.4" x2="72.0" y2="535.4" class="ld"/>
<circle cx="29.8" cy="535.4" r="13.6" class="co"/>
<text x="29.8" y="541.4" font-size="17" text-anchor="middle" style="stroke-width:0.2px">6</text>
<line x1="42.3" y1="457.0" x2="60.1" y2="472.3" class="ld"/>
<circle cx="32.0" cy="448.1" r="13.6" class="co"/>
<text x="32.0" y="454.1" font-size="17" text-anchor="middle" style="stroke-width:0.2px">7</text>
<line x1="295.0" y1="420.8" x2="266.6" y2="437.4" class="ld"/>
<circle cx="306.8" cy="414.0" r="13.6" class="co"/>
<text x="306.8" y="420.0" font-size="17" text-anchor="middle" style="stroke-width:0.2px">8</text>
<line x1="107.1" y1="303.8" x2="132.5" y2="329.3" class="ld"/>
<circle cx="97.5" cy="294.2" r="13.6" class="co"/>
<text x="97.5" y="300.2" font-size="17" text-anchor="middle" style="stroke-width:0.2px">9</text>
<line x1="265.1" y1="207.9" x2="281.8" y2="219.6" class="ld"/>
<circle cx="254.0" cy="200.1" r="13.6" class="co"/>
<text x="254.0" y="206.1" font-size="17" text-anchor="middle" textLength="19.0" lengthAdjust="spacingAndGlyphs" style="stroke-width:0.2px">10</text>
<line x1="240.1" y1="87.8" x2="268.0" y2="92.0" class="ld"/>
<circle cx="226.6" cy="85.8" r="13.6" class="co"/>
<text x="226.6" y="91.8" font-size="17" text-anchor="middle" textLength="19.0" lengthAdjust="spacingAndGlyphs" style="stroke-width:0.2px">11</text>
<line x1="423.8" y1="170.9" x2="445.7" y2="197.8" class="ld"/>
<circle cx="415.2" cy="160.4" r="13.6" class="co"/>
<text x="415.2" y="166.4" font-size="17" text-anchor="middle" textLength="19.0" lengthAdjust="spacingAndGlyphs" style="stroke-width:0.2px">12</text>
<line x1="465.5" y1="165.2" x2="466.9" y2="211.3" class="ld"/>
<circle cx="465.1" cy="151.6" r="13.6" class="co"/>
<text x="465.1" y="157.6" font-size="17" text-anchor="middle" textLength="19.0" lengthAdjust="spacingAndGlyphs" style="stroke-width:0.2px">13</text>
<line x1="516.8" y1="103.7" x2="483.0" y2="113.0" class="ld"/>
<circle cx="529.9" cy="100.1" r="13.6" class="co"/>
<text x="529.9" y="106.1" font-size="17" text-anchor="middle" textLength="19.0" lengthAdjust="spacingAndGlyphs" style="stroke-width:0.2px">14</text>
<line x1="528.9" y1="207.2" x2="553.0" y2="235.0" class="ld"/>
<circle cx="520.0" cy="196.9" r="13.6" class="co"/>
<text x="520.0" y="202.9" font-size="17" text-anchor="middle" textLength="19.0" lengthAdjust="spacingAndGlyphs" style="stroke-width:0.2px">15</text>
<line x1="605.0" y1="72.2" x2="636.0" y2="97.4" class="ld"/>
<circle cx="594.4" cy="63.6" r="13.6" class="co"/>
<text x="594.4" y="69.6" font-size="17" text-anchor="middle" textLength="19.0" lengthAdjust="spacingAndGlyphs" style="stroke-width:0.2px">16</text>
<line x1="780.9" y1="156.7" x2="759.4" y2="176.3" class="ld"/>
<circle cx="791.0" cy="147.6" r="13.6" class="co"/>
<text x="791.0" y="153.6" font-size="17" text-anchor="middle" textLength="19.0" lengthAdjust="spacingAndGlyphs" style="stroke-width:0.2px">17</text>
<line x1="685.0" y1="212.9" x2="712.0" y2="232.3" class="ld"/>
<circle cx="673.9" cy="205.0" r="13.6" class="co"/>
<text x="673.9" y="211.0" font-size="17" text-anchor="middle" textLength="19.0" lengthAdjust="spacingAndGlyphs" style="stroke-width:0.2px">18</text>
<line x1="798.5" y1="267.3" x2="771.0" y2="292.6" class="ld"/>
<circle cx="808.5" cy="258.1" r="13.6" class="co"/>
<text x="808.5" y="264.1" font-size="17" text-anchor="middle" textLength="19.0" lengthAdjust="spacingAndGlyphs" style="stroke-width:0.2px">19</text>
<line x1="821.7" y1="291.3" x2="781.0" y2="317.0" class="ld"/>
<circle cx="833.2" cy="284.0" r="13.6" class="co"/>
<text x="833.2" y="290.0" font-size="17" text-anchor="middle" textLength="19.0" lengthAdjust="spacingAndGlyphs" style="stroke-width:0.2px">20</text>
<line x1="838.5" y1="320.3" x2="778.0" y2="342.8" class="ld"/>
<circle cx="851.2" cy="315.5" r="13.6" class="co"/>
<text x="851.2" y="321.5" font-size="17" text-anchor="middle" textLength="19.0" lengthAdjust="spacingAndGlyphs" style="stroke-width:0.2px">21</text>
<line x1="718.7" y1="352.3" x2="703.7" y2="322.3" class="ld"/>
<circle cx="724.8" cy="364.5" r="13.6" class="co"/>
<text x="724.8" y="370.5" font-size="17" text-anchor="middle" textLength="19.0" lengthAdjust="spacingAndGlyphs" style="stroke-width:0.2px">22</text>
<line x1="898.6" y1="376.5" x2="864.5" y2="387.1" class="ld"/>
<circle cx="911.6" cy="372.5" r="13.6" class="co"/>
<text x="911.6" y="378.5" font-size="17" text-anchor="middle" textLength="19.0" lengthAdjust="spacingAndGlyphs" style="stroke-width:0.2px">23</text>
<line x1="966.1" y1="95.5" x2="990.6" y2="96.9" class="ld"/>
<circle cx="952.5" cy="94.7" r="13.6" class="co"/>
<text x="952.5" y="100.7" font-size="17" text-anchor="middle" textLength="19.0" lengthAdjust="spacingAndGlyphs" style="stroke-width:0.2px">24</text>
<line x1="965.4" y1="179.3" x2="1027.2" y2="189.1" class="ld"/>
<circle cx="952.0" cy="177.2" r="13.6" class="co"/>
<text x="952.0" y="183.2" font-size="17" text-anchor="middle" textLength="19.0" lengthAdjust="spacingAndGlyphs" style="stroke-width:0.2px">25</text>
<line x1="1248.9" y1="43.2" x2="1211.8" y2="42.5" class="ld"/>
<circle cx="1262.5" cy="43.4" r="13.6" class="co"/>
<text x="1262.5" y="49.4" font-size="17" text-anchor="middle" textLength="19.0" lengthAdjust="spacingAndGlyphs" style="stroke-width:0.2px">26</text>
<line x1="1151.4" y1="506.3" x2="1118.9" y2="495.2" class="ld"/>
<line x1="1153.5" y1="519.0" x2="1115.6" y2="547.9" class="ld"/>
<circle cx="1164.3" cy="510.7" r="13.6" class="co"/>
<text x="1164.3" y="516.7" font-size="17" text-anchor="middle" textLength="19.0" lengthAdjust="spacingAndGlyphs" style="stroke-width:0.2px">27</text>
<line x1="1226.1" y1="673.0" x2="1179.8" y2="673.0" class="ld"/>
<circle cx="1239.7" cy="673.0" r="13.6" class="co"/>
<text x="1239.7" y="679.0" font-size="17" text-anchor="middle" textLength="19.0" lengthAdjust="spacingAndGlyphs" style="stroke-width:0.2px">28</text>
<line x1="747.2" y1="609.4" x2="720.8" y2="572.6" class="ld"/>
<circle cx="755.1" cy="620.5" r="13.6" class="co"/>
<text x="755.1" y="626.5" font-size="17" text-anchor="middle" textLength="19.0" lengthAdjust="spacingAndGlyphs" style="stroke-width:0.2px">29</text>
<line x1="696.4" y1="593.4" x2="696.5" y2="564.9" class="ld"/>
<circle cx="696.3" cy="607.0" r="13.6" class="co"/>
<text x="696.3" y="613.0" font-size="17" text-anchor="middle" textLength="19.0" lengthAdjust="spacingAndGlyphs" style="stroke-width:0.2px">30</text>
<line x1="540.7" y1="654.6" x2="540.6" y2="634.4" class="ld"/>
<circle cx="540.8" cy="668.2" r="13.6" class="co"/>
<text x="540.8" y="674.2" font-size="17" text-anchor="middle" textLength="19.0" lengthAdjust="spacingAndGlyphs" style="stroke-width:0.2px">31</text>
<line x1="612.3" y1="693.1" x2="646.4" y2="693.4" class="ld"/>
<circle cx="598.7" cy="693.0" r="13.6" class="co"/>
<text x="598.7" y="699.0" font-size="17" text-anchor="middle" textLength="19.0" lengthAdjust="spacingAndGlyphs" style="stroke-width:0.2px">32</text>
<line x1="612.3" y1="741.7" x2="652.2" y2="741.3" class="ld"/>
<circle cx="598.7" cy="741.8" r="13.6" class="co"/>
<text x="598.7" y="747.8" font-size="17" text-anchor="middle" textLength="19.0" lengthAdjust="spacingAndGlyphs" style="stroke-width:0.2px">33</text>
</g>
<g id="table">
<text x="26.5" y="59.7" font-size="36" text-anchor="start" textLength="74.1" lengthAdjust="spacingAndGlyphs" style="stroke-width:0.9px">K199</text>
<text x="115.8" y="59.7" font-size="36" text-anchor="start" textLength="94.7" lengthAdjust="spacingAndGlyphs" style="stroke-width:0.9px">PARTS</text>
<text x="26.5" y="101.5" font-size="36" text-anchor="start" textLength="164.5" lengthAdjust="spacingAndGlyphs" style="stroke-width:0.9px">DIAGRAM</text>
<text x="25.5" y="820.0" font-size="18.5" text-anchor="start">1</text>
<text x="60.7" y="820.0" font-size="18.5" text-anchor="start" textLength="284.3" lengthAdjust="spacingAndGlyphs">COMPRESSOR MOUNTING PANEL</text>
<text x="456.7" y="820.0" font-size="18.5" text-anchor="start" textLength="165.0" lengthAdjust="spacingAndGlyphs">MDK-500714080005</text>
<text x="26.0" y="841.6" font-size="18.5" text-anchor="start">2</text>
<text x="60.7" y="841.6" font-size="18.5" text-anchor="start" textLength="124.3" lengthAdjust="spacingAndGlyphs">POWER CABLE</text>
<text x="456.7" y="841.6" font-size="18.5" text-anchor="start" textLength="163.1" lengthAdjust="spacingAndGlyphs">MDK-502401000001</text>
<text x="26.0" y="863.2" font-size="18.5" text-anchor="start">3</text>
<text x="60.7" y="863.2" font-size="18.5" text-anchor="start" textLength="120.7" lengthAdjust="spacingAndGlyphs">COMPRESSOR</text>
<text x="456.7" y="863.2" font-size="18.5" text-anchor="start" textLength="165.0" lengthAdjust="spacingAndGlyphs">MDK-501400680008</text>
<text x="26.0" y="884.8" font-size="18.5" text-anchor="start">4</text>
<text x="60.7" y="884.8" font-size="18.5" text-anchor="start" textLength="206.6" lengthAdjust="spacingAndGlyphs">OVERLOAD PROTECTOR</text>
<text x="456.7" y="884.8" font-size="18.5" text-anchor="start" textLength="152.5" lengthAdjust="spacingAndGlyphs">MDK-OVERLOAD1</text>
<text x="26.0" y="906.4" font-size="18.5" text-anchor="start">5</text>
<text x="60.7" y="906.4" font-size="18.5" text-anchor="start" textLength="125.3" lengthAdjust="spacingAndGlyphs">STARTER RELAY</text>
<text x="456.7" y="906.4" font-size="18.5" text-anchor="start" textLength="122.3" lengthAdjust="spacingAndGlyphs">MDK-STARTER1</text>
<text x="26.0" y="928.0" font-size="18.5" text-anchor="start">6</text>
<text x="60.7" y="928.0" font-size="18.5" text-anchor="start" textLength="87.9" lengthAdjust="spacingAndGlyphs">DRY FILTER</text>
<text x="456.7" y="928.0" font-size="18.5" text-anchor="start" textLength="165.0" lengthAdjust="spacingAndGlyphs">MDK-501602000045</text>
<text x="26.0" y="949.6" font-size="18.5" text-anchor="start">7</text>
<text x="60.7" y="949.6" font-size="18.5" text-anchor="start" textLength="129.3" lengthAdjust="spacingAndGlyphs">JUNCTION BOX</text>
<text x="456.7" y="949.6" font-size="18.5" text-anchor="start" textLength="165.0" lengthAdjust="spacingAndGlyphs">MDK-501105040145</text>
<text x="26.0" y="971.2" font-size="18.5" text-anchor="start">8</text>
<text x="60.7" y="971.2" font-size="18.5" text-anchor="start" textLength="166.6" lengthAdjust="spacingAndGlyphs">EVAPORATOR TRAY</text>
<text x="456.7" y="971.2" font-size="18.5" text-anchor="start" textLength="165.0" lengthAdjust="spacingAndGlyphs">MDK-501108740004</text>
<text x="26.0" y="992.8" font-size="18.5" text-anchor="start">9</text>
<text x="60.7" y="992.8" font-size="18.5" text-anchor="start" textLength="282.5" lengthAdjust="spacingAndGlyphs">COMPRESSOR CHAMBER COVER</text>
<text x="456.7" y="992.8" font-size="18.5" text-anchor="start" textLength="165.0" lengthAdjust="spacingAndGlyphs">MDK-502901080002</text>
<text x="26.0" y="1014.4" font-size="18.5" text-anchor="start">10</text>
<text x="60.7" y="1014.4" font-size="18.5" text-anchor="start" textLength="247.9" lengthAdjust="spacingAndGlyphs">EXTERNAL CO2 TANK MOUNT</text>
<text x="456.7" y="1014.4" font-size="18.5" text-anchor="start" textLength="165.0" lengthAdjust="spacingAndGlyphs">MDK-500714080004</text>
<text x="26.0" y="1036.0" font-size="18.5" text-anchor="start">11</text>
<text x="60.7" y="1036.0" font-size="18.5" text-anchor="start" textLength="105.3" lengthAdjust="spacingAndGlyphs">GUARD RAIL</text>
<text x="456.7" y="1036.0" font-size="18.5" text-anchor="start" textLength="165.0" lengthAdjust="spacingAndGlyphs">MDK-501214080033</text>
<text x="26.0" y="1057.6" font-size="18.5" text-anchor="start">12</text>
<text x="60.7" y="1057.6" font-size="18.5" text-anchor="start" textLength="149.8" lengthAdjust="spacingAndGlyphs">KNOCKOUT PLUG</text>
<text x="456.7" y="1057.6" font-size="18.5" text-anchor="start" textLength="162.6" lengthAdjust="spacingAndGlyphs">MDK-502799900001</text>
<text x="26.0" y="1079.2" font-size="18.5" text-anchor="start">13</text>
<text x="60.7" y="1079.2" font-size="18.5" text-anchor="start" textLength="167.3" lengthAdjust="spacingAndGlyphs">KNOCKOUT SHEATH</text>
<text x="456.7" y="1079.2" font-size="18.5" text-anchor="start" textLength="165.0" lengthAdjust="spacingAndGlyphs">MDK-502701000003</text>
<text x="26.0" y="1100.8" font-size="18.5" text-anchor="start">14</text>
<text x="60.7" y="1100.8" font-size="18.5" text-anchor="start" textLength="165.3" lengthAdjust="spacingAndGlyphs">GUARD RAIL INSERT</text>
<text x="456.7" y="1100.8" font-size="18.5" text-anchor="start" textLength="164.3" lengthAdjust="spacingAndGlyphs">MDK-501123456789</text>
<text x="26.0" y="1122.4" font-size="18.5" text-anchor="start">15</text>
<text x="60.7" y="1122.4" font-size="18.5" text-anchor="start" textLength="162.6" lengthAdjust="spacingAndGlyphs">TOWER HOLE PLUG</text>
<text x="456.7" y="1122.4" font-size="18.5" text-anchor="start" textLength="137.4" lengthAdjust="spacingAndGlyphs">MDK-HOLEPLUG</text>
<text x="26.0" y="1144.0" font-size="18.5" text-anchor="start">16</text>
<text x="60.7" y="1144.0" font-size="18.5" text-anchor="start" textLength="85.3" lengthAdjust="spacingAndGlyphs">DRIP TRAY</text>
<text x="456.7" y="1144.0" font-size="18.5" text-anchor="start" textLength="164.3" lengthAdjust="spacingAndGlyphs">MDK-501114080039</text>
<text x="26.0" y="1165.6" font-size="18.5" text-anchor="start">17</text>
<text x="60.7" y="1165.6" font-size="18.5" text-anchor="start" textLength="130.6" lengthAdjust="spacingAndGlyphs">TOWER BUCKLE</text>
<text x="456.7" y="1165.6" font-size="18.5" text-anchor="start" textLength="165.0" lengthAdjust="spacingAndGlyphs">MDK-501114080045</text>
<text x="684.5" y="820.0" font-size="18.5" text-anchor="start">18</text>
<text x="720.6" y="820.0" font-size="18.5" text-anchor="start" textLength="168.1" lengthAdjust="spacingAndGlyphs">TOWER BUCKLE NUT</text>
<text x="1116.7" y="820.0" font-size="18.5" text-anchor="start" textLength="165.0" lengthAdjust="spacingAndGlyphs">MDK-501114080046</text>
<text x="684.5" y="841.6" font-size="18.5" text-anchor="start">19</text>
<text x="720.6" y="841.6" font-size="18.5" text-anchor="start" textLength="109.6" lengthAdjust="spacingAndGlyphs">THERMOSTAT</text>
<text x="1116.7" y="841.6" font-size="18.5" text-anchor="start" textLength="165.0" lengthAdjust="spacingAndGlyphs">MDK-502407080002</text>
<text x="684.5" y="863.2" font-size="18.5" text-anchor="start">20</text>
<text x="720.6" y="863.2" font-size="18.5" text-anchor="start" textLength="250.1" lengthAdjust="spacingAndGlyphs">TEMPERATURE CONTROL BOX</text>
<text x="1116.7" y="863.2" font-size="18.5" text-anchor="start" textLength="165.0" lengthAdjust="spacingAndGlyphs">MDK-501106840025</text>
<text x="684.5" y="884.8" font-size="18.5" text-anchor="start">21</text>
<text x="720.6" y="884.8" font-size="18.5" text-anchor="start" textLength="263.4" lengthAdjust="spacingAndGlyphs">TEMPERATURE CONTROL KNOB</text>
<text x="1116.7" y="884.8" font-size="18.5" text-anchor="start" textLength="165.0" lengthAdjust="spacingAndGlyphs">MDK-501105040016</text>
<text x="684.5" y="906.4" font-size="18.5" text-anchor="start">22</text>
<text x="720.6" y="906.4" font-size="18.5" text-anchor="start" textLength="184.0" lengthAdjust="spacingAndGlyphs">TOP HINGE ASSEMBLY</text>
<text x="1116.7" y="906.4" font-size="18.5" text-anchor="start" textLength="165.0" lengthAdjust="spacingAndGlyphs">MDK-502905080003</text>
<text x="684.5" y="928.0" font-size="18.5" text-anchor="start">23</text>
<text x="720.6" y="928.0" font-size="18.5" text-anchor="start" textLength="118.7" lengthAdjust="spacingAndGlyphs">EVAPORATOR</text>
<text x="1116.7" y="928.0" font-size="18.5" text-anchor="start" textLength="165.0" lengthAdjust="spacingAndGlyphs">MDK-501714080009</text>
<text x="684.5" y="949.6" font-size="18.5" text-anchor="start">24</text>
<text x="720.6" y="949.6" font-size="18.5" text-anchor="start" textLength="116.6" lengthAdjust="spacingAndGlyphs">BLACK DOOR</text>
<text x="1116.7" y="949.6" font-size="18.5" text-anchor="start" textLength="165.0" lengthAdjust="spacingAndGlyphs">MDK-50370018000B</text>
<text x="720.6" y="971.2" font-size="18.5" text-anchor="start" textLength="141.9" lengthAdjust="spacingAndGlyphs">STAINLESS DOOR</text>
<text x="1116.7" y="971.2" font-size="18.5" text-anchor="start" textLength="165.0" lengthAdjust="spacingAndGlyphs">MDK-50370018000E</text>
<text x="684.5" y="992.8" font-size="18.5" text-anchor="start">25</text>
<text x="720.6" y="992.8" font-size="18.5" text-anchor="start" textLength="125.4" lengthAdjust="spacingAndGlyphs">DOOR GASKET</text>
<text x="1116.7" y="992.8" font-size="18.5" text-anchor="start" textLength="169.1" lengthAdjust="spacingAndGlyphs">MDK-50111408000C</text>
<text x="684.5" y="1014.4" font-size="18.5" text-anchor="start">26</text>
<text x="720.6" y="1014.4" font-size="18.5" text-anchor="start" textLength="174.1" lengthAdjust="spacingAndGlyphs">HINGE SHAFT SLEEVE</text>
<text x="1116.7" y="1014.4" font-size="18.5" text-anchor="start" textLength="163.1" lengthAdjust="spacingAndGlyphs">MDK-501107840021</text>
<text x="684.5" y="1036.0" font-size="18.5" text-anchor="start">27</text>
<text x="720.6" y="1036.0" font-size="18.5" text-anchor="start" textLength="116.0" lengthAdjust="spacingAndGlyphs">WIRE SHELVES</text>
<text x="1116.7" y="1036.0" font-size="18.5" text-anchor="start" textLength="165.0" lengthAdjust="spacingAndGlyphs">MDK-502901080003</text>
<text x="684.5" y="1057.6" font-size="18.5" text-anchor="start">28</text>
<text x="720.6" y="1057.6" font-size="18.5" text-anchor="start" textLength="112.8" lengthAdjust="spacingAndGlyphs">FLOOR PLATE</text>
<text x="1116.7" y="1057.6" font-size="18.5" text-anchor="start" textLength="163.1" lengthAdjust="spacingAndGlyphs">MDK-501214080001</text>
<text x="684.5" y="1079.2" font-size="18.5" text-anchor="start">29</text>
<text x="720.6" y="1079.2" font-size="18.5" text-anchor="start" textLength="157.4" lengthAdjust="spacingAndGlyphs">ADJUSTABLE FOOT</text>
<text x="1116.7" y="1079.2" font-size="18.5" text-anchor="start" textLength="165.0" lengthAdjust="spacingAndGlyphs">MDK-501133060015</text>
<text x="684.5" y="1100.8" font-size="18.5" text-anchor="start">30</text>
<text x="720.6" y="1100.8" font-size="18.5" text-anchor="start" textLength="224.0" lengthAdjust="spacingAndGlyphs">BOTTOM HINGE ASSEMBLY</text>
<text x="1116.7" y="1100.8" font-size="18.5" text-anchor="start" textLength="165.0" lengthAdjust="spacingAndGlyphs">MDK-502905030007</text>
<text x="684.5" y="1122.4" font-size="18.5" text-anchor="start">31</text>
<text x="720.6" y="1122.4" font-size="18.5" text-anchor="start" textLength="157.4" lengthAdjust="spacingAndGlyphs">STATIONARY FOOT</text>
<text x="1116.7" y="1122.4" font-size="18.5" text-anchor="start" textLength="165.0" lengthAdjust="spacingAndGlyphs">MDK-501105040022</text>
<text x="684.5" y="1144.0" font-size="18.5" text-anchor="start">32</text>
<text x="720.6" y="1144.0" font-size="18.5" text-anchor="start" textLength="208.0" lengthAdjust="spacingAndGlyphs">NON-LOCKING CASTERS</text>
<text x="1116.7" y="1144.0" font-size="18.5" text-anchor="start" textLength="165.0" lengthAdjust="spacingAndGlyphs">MDK-502999900059</text>
<text x="684.5" y="1165.6" font-size="18.5" text-anchor="start">33</text>
<text x="720.6" y="1165.6" font-size="18.5" text-anchor="start" textLength="160.0" lengthAdjust="spacingAndGlyphs">LOCKING CASTERS</text>
<text x="1116.7" y="1165.6" font-size="18.5" text-anchor="start" textLength="165.0" lengthAdjust="spacingAndGlyphs">MDK-502999900006</text>
</g>
</svg>
</body></html>
